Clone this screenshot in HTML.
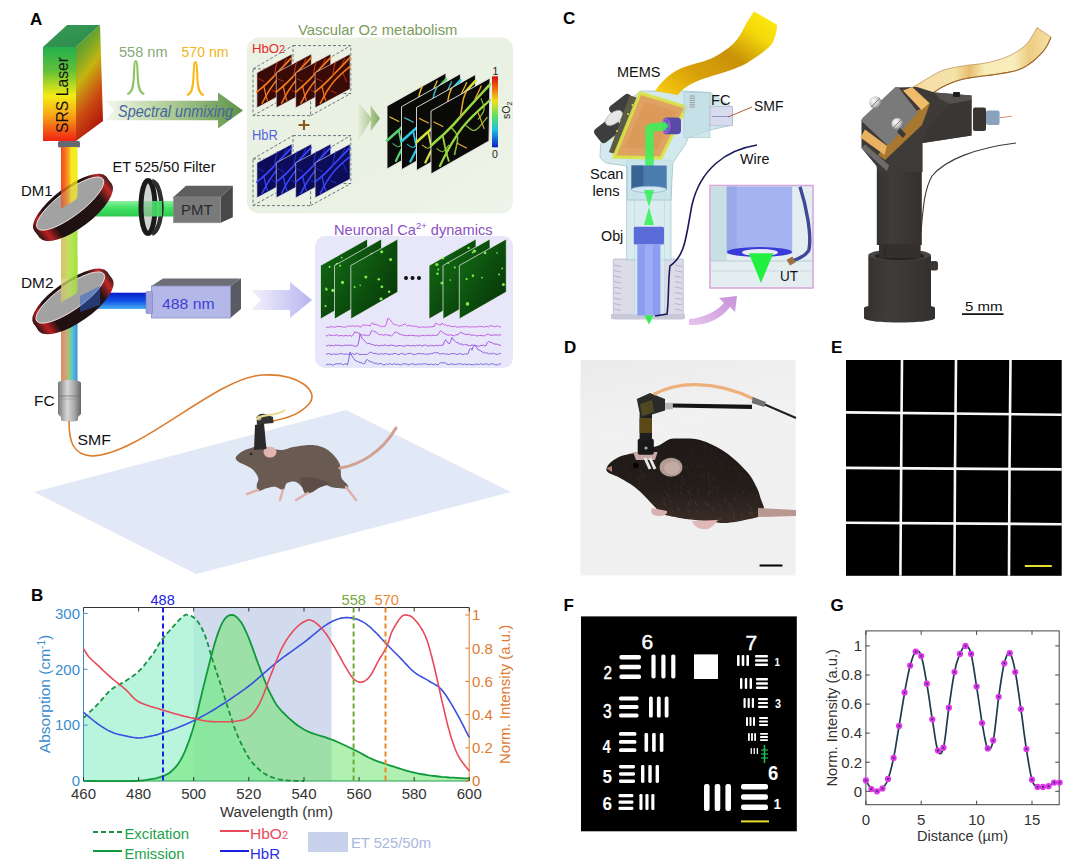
<!DOCTYPE html><html><head><meta charset="utf-8"><style>html,body{margin:0;padding:0;background:#fff;overflow:hidden}svg{display:block}</style></head><body><svg width="1080" height="867" viewBox="0 0 1080 867"><defs>
<linearGradient id="laserFront" x1="0" y1="0" x2="0" y2="1">
 <stop offset="0" stop-color="#22b04e"/><stop offset="0.25" stop-color="#60c038"/>
 <stop offset="0.52" stop-color="#f4ec14"/><stop offset="0.72" stop-color="#f8a818"/>
 <stop offset="1" stop-color="#f02212"/></linearGradient>
<linearGradient id="laserSide" x1="0" y1="0" x2="0.3" y2="1">
 <stop offset="0" stop-color="#2e8a3e"/><stop offset="0.3" stop-color="#7aa828"/>
 <stop offset="0.48" stop-color="#c4b410"/><stop offset="0.75" stop-color="#cc5012"/>
 <stop offset="1" stop-color="#b41c0c"/></linearGradient>
<linearGradient id="laserTop" x1="0" y1="0" x2="1" y2="1">
 <stop offset="0" stop-color="#3a9a58"/><stop offset="1" stop-color="#2a8a48"/></linearGradient>
<linearGradient id="beam1" x1="0" y1="0" x2="1" y2="0">
 <stop offset="0" stop-color="#f04a22"/><stop offset="0.3" stop-color="#f87a20"/><stop offset="0.5" stop-color="#f8b020"/>
 <stop offset="0.62" stop-color="#f8e820"/><stop offset="1" stop-color="#f0f020"/></linearGradient>
<linearGradient id="beam2" x1="0" y1="0" x2="1" y2="0">
 <stop offset="0" stop-color="#d8c070"/><stop offset="0.45" stop-color="#c8dc60"/>
 <stop offset="0.6" stop-color="#b0e850"/><stop offset="1" stop-color="#a8e040"/></linearGradient>
<linearGradient id="beam3" x1="0" y1="0" x2="1" y2="0">
 <stop offset="0" stop-color="#d89068"/><stop offset="0.35" stop-color="#d0a878"/>
 <stop offset="0.5" stop-color="#88d080"/><stop offset="0.7" stop-color="#60c0d0"/>
 <stop offset="1" stop-color="#3890e0"/></linearGradient>
<linearGradient id="greenBeam" x1="0" y1="0" x2="0" y2="1">
 <stop offset="0" stop-color="#8af0a0"/><stop offset="0.5" stop-color="#3ee060"/>
 <stop offset="1" stop-color="#30c850"/></linearGradient>
<linearGradient id="blueBeam" x1="0" y1="0" x2="0" y2="1">
 <stop offset="0" stop-color="#0a20c8"/><stop offset="0.5" stop-color="#1050e8"/>
 <stop offset="1" stop-color="#48b0f0"/></linearGradient>
<linearGradient id="silver" x1="0" y1="0" x2="1" y2="0">
 <stop offset="0" stop-color="#777"/><stop offset="0.4" stop-color="#d8d8d8"/>
 <stop offset="0.7" stop-color="#aaa"/><stop offset="1" stop-color="#666"/></linearGradient>
<linearGradient id="specArrow" x1="0" y1="0" x2="1" y2="0">
 <stop offset="0" stop-color="#f4f8f0"/><stop offset="0.35" stop-color="#c0d8a8"/>
 <stop offset="1" stop-color="#5e9248"/></linearGradient>
<linearGradient id="chev" x1="0" y1="0" x2="1" y2="0">
 <stop offset="0" stop-color="#e6eedc"/><stop offset="0.55" stop-color="#b4cc98"/><stop offset="1" stop-color="#80a860"/></linearGradient>
<linearGradient id="purpArrow" x1="0" y1="0" x2="1" y2="0">
 <stop offset="0" stop-color="#f4f2fc"/><stop offset="1" stop-color="#b8b4f0"/></linearGradient>
<linearGradient id="jet" x1="0" y1="0" x2="0" y2="1">
 <stop offset="0" stop-color="#d01010"/><stop offset="0.15" stop-color="#f06010"/>
 <stop offset="0.35" stop-color="#f0e020"/><stop offset="0.55" stop-color="#60e060"/>
 <stop offset="0.75" stop-color="#20c0e0"/><stop offset="1" stop-color="#0a20c8"/></linearGradient>
<linearGradient id="greenPanel" x1="0" y1="0" x2="1" y2="1">
 <stop offset="0" stop-color="#ebf2e4"/><stop offset="0.5" stop-color="#e9f1e2"/><stop offset="1" stop-color="#eef4e9"/></linearGradient>
<linearGradient id="rim" x1="0" y1="0" x2="1" y2="0">
 <stop offset="0" stop-color="#301414"/><stop offset="0.1" stop-color="#b82020"/><stop offset="0.22" stop-color="#1e1010"/>
 <stop offset="0.8" stop-color="#241414"/><stop offset="0.93" stop-color="#c02828"/><stop offset="1" stop-color="#3a1a1a"/></linearGradient>
<linearGradient id="pinkArrow" x1="0" y1="1" x2="1" y2="0">
 <stop offset="0" stop-color="#e6c4ec"/><stop offset="1" stop-color="#c890d8"/></linearGradient>
<linearGradient id="ribbon" x1="1" y1="0" x2="0" y2="1">
 <stop offset="0" stop-color="#fcf010"/><stop offset="0.22" stop-color="#f4d80a"/><stop offset="0.45" stop-color="#c89208"/>
 <stop offset="0.7" stop-color="#d8a008"/><stop offset="1" stop-color="#fad010"/></linearGradient>
<linearGradient id="ribbon2" x1="0" y1="0" x2="1" y2="0">
 <stop offset="0" stop-color="#eec27a"/><stop offset="0.15" stop-color="#f6e0a8"/><stop offset="0.35" stop-color="#f4e2a8"/>
 <stop offset="0.45" stop-color="#e8bc70"/><stop offset="0.55" stop-color="#f8ecb8"/><stop offset="0.75" stop-color="#f8eebc"/>
 <stop offset="0.85" stop-color="#eecb80"/><stop offset="1" stop-color="#f6e2a8"/></linearGradient>
<linearGradient id="photoBg" x1="0" y1="0" x2="0.2" y2="1">
 <stop offset="0" stop-color="#ebebeb"/><stop offset="0.35" stop-color="#f1f1f1"/><stop offset="1" stop-color="#f0f0f0"/></linearGradient>
<linearGradient id="mouseFur" x1="0" y1="0" x2="0" y2="1">
 <stop offset="0" stop-color="#1e1917"/><stop offset="0.6" stop-color="#241d1a"/><stop offset="1" stop-color="#3a2d27"/></linearGradient>
<linearGradient id="darkCol" x1="0" y1="0" x2="1" y2="0">
 <stop offset="0" stop-color="#363230"/><stop offset="0.35" stop-color="#403c39"/><stop offset="1" stop-color="#34302e"/></linearGradient>
</defs>
<defs>
<linearGradient id="chev2" x1="0" y1="0" x2="1" y2="0"><stop offset="0" stop-color="#d8e8c8"/><stop offset="1" stop-color="#7aa85a"/></linearGradient>
<linearGradient id="caG" x1="0" y1="0" x2="1" y2="1"><stop offset="0" stop-color="#157016"/><stop offset="0.5" stop-color="#0c4e0e"/><stop offset="1" stop-color="#072e08"/></linearGradient>
<radialGradient id="screw" cx="0.35" cy="0.35" r="0.7"><stop offset="0" stop-color="#ffffff"/><stop offset="0.6" stop-color="#c8c8c8"/><stop offset="1" stop-color="#707070"/></radialGradient>
</defs>
<rect width="1080" height="867" fill="#ffffff"/>
<rect x="0" y="0" width="540" height="580" fill="#ffffff"/>
<text x="30" y="25" font-family="Liberation Sans, sans-serif" font-weight="bold" font-size="17" fill="#000">A</text>
<polygon points="43,47 67,25 100,25 76,47" fill="url(#laserTop)"/>
<polygon points="76,47 100,25 103,121 76,141" fill="url(#laserSide)"/>
<rect x="43" y="47" width="33" height="94" fill="url(#laserFront)"/>
<text transform="translate(67.5,133) rotate(-90)" font-family="Liberation Sans, sans-serif" font-size="17" fill="#111" textLength="76" lengthAdjust="spacingAndGlyphs">SRS Laser</text>
<rect x="58" y="141" width="22" height="6.5" rx="1.5" fill="#656a72"/>
<rect x="61" y="147" width="16.5" height="70" fill="url(#beam1)"/>
<rect x="61" y="217" width="16.5" height="62" fill="url(#beam2)"/>
<rect x="61" y="300" width="16.5" height="82" fill="url(#beam3)"/>
<rect x="90" y="201" width="84" height="15.5" fill="url(#greenBeam)"/>
<rect x="82" y="292.7" width="65" height="16.3" fill="url(#blueBeam)"/>
<g transform="translate(72,206) rotate(-37)"><ellipse cx="0" cy="6" rx="45" ry="17" fill="url(#rim)"/><rect x="-45" y="-3" width="90" height="9" fill="url(#rim)"/><ellipse cx="0" cy="-3" rx="45" ry="16" fill="url(#rim)"/><ellipse cx="0" cy="-3" rx="41" ry="12.5" fill="#a2a2a2" stroke="#f0e4e4" stroke-width="0.9"/></g>
<g transform="translate(72,300) rotate(-35)"><ellipse cx="0" cy="6" rx="45" ry="17" fill="url(#rim)"/><rect x="-45" y="-3" width="90" height="9" fill="url(#rim)"/><ellipse cx="0" cy="-3" rx="45" ry="16" fill="url(#rim)"/><ellipse cx="0" cy="-3" rx="41" ry="12.5" fill="#a2a2a2" stroke="#f0e4e4" stroke-width="0.9"/></g>
<path d="M61,160 L77.5,160 L77.5,196 C77.5,202 61,206 61,210 Z" fill="url(#beam1)" opacity="0.75"/>
<path d="M61,255 L77.5,255 L77.5,290 C77.5,296 61,300 61,304 Z" fill="url(#beam2)" opacity="0.8"/>
<path d="M80,296 L100,286 L100,305 L80,312 Z" fill="#2a60d0" opacity="0.5"/>
<ellipse cx="148" cy="207" rx="7" ry="26.5" fill="#b0b8b0" fill-opacity="0.6" stroke="#1a1a1a" stroke-width="5"/>
<path d="M152,181 C159,183 161.5,198 161.5,207 C161.5,216 159,231 152,234" fill="none" stroke="#2e2e2e" stroke-width="4.5"/>
<rect x="152" y="201" width="10" height="15.5" fill="#48e068" opacity="0.9"/>
<polygon points="173.5,196.9 186,185.7 232.8,185.7 220.7,196.9" fill="#5e5e5e"/>
<polygon points="220.7,196.9 232.8,185.7 232.8,217.2 220.7,222.8" fill="#484848"/>
<rect x="173.5" y="196.9" width="47.2" height="25.9" fill="#7a7a7a" stroke="#8e8e8e" stroke-width="0.6"/>
<text x="181" y="215.4" font-family="Liberation Sans, sans-serif" font-size="15" fill="#2a2a2a" textLength="31.5" lengthAdjust="spacingAndGlyphs" >PMT</text>
<polygon points="151.4,286 163,278.5 241,278.5 230.3,286" fill="#6e6e76"/>
<polygon points="230.3,286 241,278.5 241,309 230.3,318" fill="#5a5a62"/>
<rect x="151.4" y="286" width="79" height="32" fill="#b4b8e8" stroke="#8a8ec0" stroke-width="0.8"/>
<rect x="146" y="291.6" width="6.5" height="22" rx="1" fill="#a0a4dc" stroke="#7a7eb8" stroke-width="0.6"/>
<text x="162" y="308.5" font-family="Liberation Sans, sans-serif" font-size="15" fill="#4040d8" textLength="52.5" lengthAdjust="spacingAndGlyphs" >488 nm</text>
<path d="M58,383 C58,379 81,379 81,383 L81,414 L78,417 L78,420 C78,422 61,422 61,420 L61,417 L58,414 Z" fill="url(#silver)"/>
<line x1="58" y1="396" x2="81" y2="396" stroke="#6a6a6a" stroke-width="0.7"/>
<line x1="58" y1="399" x2="81" y2="399" stroke="#8a8a8a" stroke-width="0.5"/>
<text x="21" y="196" font-family="Liberation Sans, sans-serif" font-size="15.5" fill="#111" textLength="31.5" lengthAdjust="spacingAndGlyphs" >DM1</text>
<text x="21" y="288" font-family="Liberation Sans, sans-serif" font-size="15.5" fill="#111" textLength="32.5" lengthAdjust="spacingAndGlyphs" >DM2</text>
<text x="34" y="405.5" font-family="Liberation Sans, sans-serif" font-size="15.5" fill="#111" textLength="20.5" lengthAdjust="spacingAndGlyphs" >FC</text>
<text x="77.5" y="445" font-family="Liberation Sans, sans-serif" font-size="15.5" fill="#111" textLength="33.5" lengthAdjust="spacingAndGlyphs" >SMF</text>
<text x="112.5" y="171.5" font-family="Liberation Sans, sans-serif" font-size="14.6" fill="#111" textLength="103" lengthAdjust="spacingAndGlyphs" >ET 525/50 Filter</text>
<polygon points="105.5,100.8 218,100.8 218,92.5 243,110.5 218,128.6 218,120.3 105.5,120.3 114,110.5" fill="url(#specArrow)"/>
<text x="118" y="117" font-family="Liberation Sans, sans-serif" font-size="16" font-style="italic" fill="#46649e" textLength="115" lengthAdjust="spacingAndGlyphs">Spectral unmixing</text>
<text x="119" y="57" font-family="Liberation Sans, sans-serif" font-size="14" fill="#86aa76" textLength="48.5" lengthAdjust="spacingAndGlyphs" >558 nm</text>
<text x="181.5" y="57" font-family="Liberation Sans, sans-serif" font-size="14" fill="#f2b41a" textLength="47" lengthAdjust="spacingAndGlyphs" >570 nm</text>
<path d="M127.30000000000001,94 C131.8,93 133.20000000000002,88 133.8,78 C134.3,65 134.8,61 135.8,61 C136.8,61 137.3,65 137.8,78 C138.4,88 139.8,93 144.3,94" fill="none" stroke="#8cc464" stroke-width="2.1"/>
<path d="M186.9,95 C191.4,94 192.8,89 193.4,79 C193.9,66 194.4,62 195.4,62 C196.4,62 196.9,66 197.4,79 C198.0,89 199.4,94 203.9,95" fill="none" stroke="#f8b818" stroke-width="2.1"/>
<rect x="247" y="37.5" width="266" height="176" rx="12" fill="url(#greenPanel)"/>
<text x="298" y="35" font-family="Liberation Sans, sans-serif" font-size="14.8" fill="#7a9c5c">Vascular O<tspan font-size="13.5">2</tspan>  metabolism</text>
<text x="252" y="53" font-family="Liberation Sans, sans-serif" font-size="13.2" fill="#e82828">HbO<tspan font-size="10.5">2</tspan></text>
<text x="252" y="140" font-family="Liberation Sans, sans-serif" font-size="14.5" fill="#5064e0" textLength="25.8" lengthAdjust="spacingAndGlyphs" >HbR</text>
<path d="M304,120 L304,130 M298.5,125 L309.5,125" stroke="#8a5a20" stroke-width="2.2"/>
<g fill="none" stroke="#6a7484" stroke-width="1" stroke-dasharray="3,2"><rect x="253" y="68.9" width="57.6" height="46.7"/><rect x="293" y="45.6" width="57.8" height="47.9"/><line x1="253" y1="68.9" x2="293" y2="45.6"/><line x1="310.6" y1="68.9" x2="350.8" y2="45.6"/><line x1="253" y1="115.6" x2="293" y2="93.5"/><line x1="310.6" y1="115.6" x2="350.8" y2="93.5"/></g><polygon points="256.9,72.8 291.9,54 291.9,89 256.9,107.8" fill="#3a0a06" stroke="#e8e8e8" stroke-width="0.6"/><path d="M256.9,92.0 L258.8,90.4 L261.5,88.2 L264.5,85.5 L267.4,82.9 L269.9,80.4 L272.4,77.8 L275.0,75.0 L277.9,72.0 L281.5,68.3 L285.6,64.1 L289.3,60.2 L291.9,57.5" fill="none" stroke="#f47a1e" stroke-width="1.70" stroke-linecap="round"/><path d="M262.1,103.2 L263.4,101.0 L265.1,97.7 L267.1,94.1 L269.1,90.7 L271.1,87.8 L273.1,84.9 L275.3,82.0 L277.9,79.0 L281.4,75.6 L285.4,71.9 L289.3,68.6 L291.9,66.2" fill="none" stroke="#f47a1e" stroke-width="1.50" stroke-linecap="round"/><path d="M263.9,86.5 L264.2,88.0 L264.7,90.1 L265.2,92.3 L265.6,94.3 L266.1,96.1 L266.6,97.9 L267.1,99.4 L267.4,100.4" fill="none" stroke="#f47a1e" stroke-width="1.20" stroke-linecap="round"/><path d="M274.4,75.7 L274.7,73.8 L275.2,71.1 L275.7,68.2 L276.1,66.0 L276.6,64.4 L277.1,63.1 L277.6,62.2 L277.9,61.5" fill="none" stroke="#d83a14" stroke-width="1.00" stroke-linecap="round"/><path d="M283.1,65.7 L283.9,64.3 L284.9,62.1 L285.9,60.0 L286.6,58.6" fill="none" stroke="#d83a14" stroke-width="0.90" stroke-linecap="round"/><path d="M258.6,78.9 L259.7,79.4 L261.3,80.1 L262.8,80.8 L263.9,81.3" fill="none" stroke="#d83a14" stroke-width="0.80" stroke-linecap="round"/><path d="M272.6,90.6 L273.7,91.1 L275.3,91.8 L276.8,92.5 L277.9,93.0" fill="none" stroke="#d83a14" stroke-width="0.80" stroke-linecap="round"/><path d="M284.9,73.5 L285.6,75.3 L286.6,77.8 L287.7,80.4 L288.4,82.1" fill="none" stroke="#d83a14" stroke-width="0.80" stroke-linecap="round"/><polygon points="276.29999999999995,72.8 311.29999999999995,54 311.29999999999995,89 276.29999999999995,107.8" fill="#3a0a06" stroke="#e8e8e8" stroke-width="0.6"/><path d="M276.3,92.0 L278.2,90.4 L280.9,88.2 L283.9,85.5 L286.8,82.9 L289.3,80.4 L291.8,77.8 L294.4,75.0 L297.3,72.0 L300.9,68.3 L305.0,64.1 L308.7,60.2 L311.3,57.5" fill="none" stroke="#f47a1e" stroke-width="1.70" stroke-linecap="round"/><path d="M281.5,103.2 L282.8,101.0 L284.5,97.7 L286.5,94.1 L288.5,90.7 L290.5,87.8 L292.5,84.9 L294.7,82.0 L297.3,79.0 L300.8,75.6 L304.8,71.9 L308.7,68.6 L311.3,66.2" fill="none" stroke="#f47a1e" stroke-width="1.50" stroke-linecap="round"/><path d="M283.3,86.5 L283.6,88.0 L284.1,90.1 L284.6,92.3 L285.0,94.3 L285.5,96.1 L286.0,97.9 L286.5,99.4 L286.8,100.4" fill="none" stroke="#f47a1e" stroke-width="1.20" stroke-linecap="round"/><path d="M293.8,75.7 L294.1,73.8 L294.6,71.1 L295.1,68.2 L295.5,66.0 L296.0,64.4 L296.5,63.1 L297.0,62.2 L297.3,61.5" fill="none" stroke="#d83a14" stroke-width="1.00" stroke-linecap="round"/><path d="M302.5,65.7 L303.3,64.3 L304.3,62.1 L305.3,60.0 L306.0,58.6" fill="none" stroke="#d83a14" stroke-width="0.90" stroke-linecap="round"/><path d="M278.0,78.9 L279.1,79.4 L280.7,80.1 L282.2,80.8 L283.3,81.3" fill="none" stroke="#d83a14" stroke-width="0.80" stroke-linecap="round"/><path d="M292.0,90.6 L293.1,91.1 L294.7,91.8 L296.2,92.5 L297.3,93.0" fill="none" stroke="#d83a14" stroke-width="0.80" stroke-linecap="round"/><path d="M304.3,73.5 L305.0,75.3 L306.0,77.8 L307.1,80.4 L307.8,82.1" fill="none" stroke="#d83a14" stroke-width="0.80" stroke-linecap="round"/><polygon points="295.7,72.8 330.7,54 330.7,89 295.7,107.8" fill="#3a0a06" stroke="#e8e8e8" stroke-width="0.6"/><path d="M295.7,92.0 L297.6,90.4 L300.3,88.2 L303.3,85.5 L306.2,82.9 L308.7,80.4 L311.2,77.8 L313.8,75.0 L316.7,72.0 L320.3,68.3 L324.4,64.1 L328.1,60.2 L330.7,57.5" fill="none" stroke="#f47a1e" stroke-width="1.70" stroke-linecap="round"/><path d="M300.9,103.2 L302.2,101.0 L303.9,97.7 L305.9,94.1 L307.9,90.7 L309.9,87.8 L311.9,84.9 L314.1,82.0 L316.7,79.0 L320.2,75.6 L324.2,71.9 L328.1,68.6 L330.7,66.2" fill="none" stroke="#f47a1e" stroke-width="1.50" stroke-linecap="round"/><path d="M302.7,86.5 L303.0,88.0 L303.5,90.1 L304.0,92.3 L304.4,94.3 L304.9,96.1 L305.4,97.9 L305.9,99.4 L306.2,100.4" fill="none" stroke="#f47a1e" stroke-width="1.20" stroke-linecap="round"/><path d="M313.2,75.7 L313.5,73.8 L314.0,71.1 L314.5,68.2 L314.9,66.0 L315.4,64.4 L315.9,63.1 L316.4,62.2 L316.7,61.5" fill="none" stroke="#d83a14" stroke-width="1.00" stroke-linecap="round"/><path d="M321.9,65.7 L322.7,64.3 L323.7,62.1 L324.7,60.0 L325.4,58.6" fill="none" stroke="#d83a14" stroke-width="0.90" stroke-linecap="round"/><path d="M297.4,78.9 L298.5,79.4 L300.1,80.1 L301.6,80.8 L302.7,81.3" fill="none" stroke="#d83a14" stroke-width="0.80" stroke-linecap="round"/><path d="M311.4,90.6 L312.5,91.1 L314.1,91.8 L315.6,92.5 L316.7,93.0" fill="none" stroke="#d83a14" stroke-width="0.80" stroke-linecap="round"/><path d="M323.7,73.5 L324.4,75.3 L325.4,77.8 L326.5,80.4 L327.2,82.1" fill="none" stroke="#d83a14" stroke-width="0.80" stroke-linecap="round"/><polygon points="315.09999999999997,72.8 350.09999999999997,54 350.09999999999997,89 315.09999999999997,107.8" fill="#3a0a06" stroke="#e8e8e8" stroke-width="0.6"/><path d="M315.1,92.0 L317.0,90.4 L319.7,88.2 L322.7,85.5 L325.6,82.9 L328.1,80.4 L330.6,77.8 L333.2,75.0 L336.1,72.0 L339.7,68.3 L343.8,64.1 L347.5,60.2 L350.1,57.5" fill="none" stroke="#f47a1e" stroke-width="1.70" stroke-linecap="round"/><path d="M320.3,103.2 L321.6,101.0 L323.3,97.7 L325.3,94.1 L327.3,90.7 L329.3,87.8 L331.3,84.9 L333.5,82.0 L336.1,79.0 L339.6,75.6 L343.6,71.9 L347.5,68.6 L350.1,66.2" fill="none" stroke="#f47a1e" stroke-width="1.50" stroke-linecap="round"/><path d="M322.1,86.5 L322.4,88.0 L322.9,90.1 L323.4,92.3 L323.8,94.3 L324.3,96.1 L324.8,97.9 L325.3,99.4 L325.6,100.4" fill="none" stroke="#f47a1e" stroke-width="1.20" stroke-linecap="round"/><path d="M332.6,75.7 L332.9,73.8 L333.4,71.1 L333.9,68.2 L334.3,66.0 L334.8,64.4 L335.3,63.1 L335.8,62.2 L336.1,61.5" fill="none" stroke="#d83a14" stroke-width="1.00" stroke-linecap="round"/><path d="M341.3,65.7 L342.1,64.3 L343.1,62.1 L344.1,60.0 L344.8,58.6" fill="none" stroke="#d83a14" stroke-width="0.90" stroke-linecap="round"/><path d="M316.8,78.9 L317.9,79.4 L319.5,80.1 L321.0,80.8 L322.1,81.3" fill="none" stroke="#d83a14" stroke-width="0.80" stroke-linecap="round"/><path d="M330.8,90.6 L331.9,91.1 L333.5,91.8 L335.0,92.5 L336.1,93.0" fill="none" stroke="#d83a14" stroke-width="0.80" stroke-linecap="round"/><path d="M343.1,73.5 L343.8,75.3 L344.8,77.8 L345.9,80.4 L346.6,82.1" fill="none" stroke="#d83a14" stroke-width="0.80" stroke-linecap="round"/>
<g fill="none" stroke="#6a7484" stroke-width="1" stroke-dasharray="3,2"><rect x="253" y="158.9" width="57.6" height="46.7"/><rect x="293" y="135.6" width="57.8" height="47.9"/><line x1="253" y1="158.9" x2="293" y2="135.6"/><line x1="310.6" y1="158.9" x2="350.8" y2="135.6"/><line x1="253" y1="205.6" x2="293" y2="183.5"/><line x1="310.6" y1="205.6" x2="350.8" y2="183.5"/></g><polygon points="256.9,162.8 291.9,144 291.9,179 256.9,197.8" fill="#0c0c5a" stroke="#e8e8e8" stroke-width="0.6"/><path d="M256.9,182.1 L258.8,180.4 L261.5,178.2 L264.5,175.5 L267.4,172.9 L269.9,170.4 L272.4,167.8 L275.0,165.0 L277.9,162.0 L281.5,158.3 L285.6,154.1 L289.3,150.2 L291.9,147.5" fill="none" stroke="#3848ff" stroke-width="1.70" stroke-linecap="round"/><path d="M262.1,193.2 L263.4,191.0 L265.1,187.7 L267.1,184.1 L269.1,180.7 L271.1,177.8 L273.1,174.9 L275.3,172.0 L277.9,169.0 L281.4,165.6 L285.4,161.9 L289.3,158.6 L291.9,156.2" fill="none" stroke="#3848ff" stroke-width="1.50" stroke-linecap="round"/><path d="M263.9,176.5 L264.2,178.0 L264.7,180.1 L265.2,182.3 L265.6,184.3 L266.1,186.1 L266.6,187.9 L267.1,189.4 L267.4,190.4" fill="none" stroke="#3848ff" stroke-width="1.20" stroke-linecap="round"/><path d="M274.4,165.7 L274.7,163.8 L275.2,161.1 L275.7,158.2 L276.1,156.0 L276.6,154.4 L277.1,153.1 L277.6,152.2 L277.9,151.5" fill="none" stroke="#2838d8" stroke-width="1.00" stroke-linecap="round"/><path d="M283.1,155.7 L283.9,154.3 L284.9,152.1 L285.9,150.0 L286.6,148.6" fill="none" stroke="#2838d8" stroke-width="0.90" stroke-linecap="round"/><path d="M258.6,168.9 L259.7,169.4 L261.3,170.1 L262.8,170.8 L263.9,171.3" fill="none" stroke="#2838d8" stroke-width="0.80" stroke-linecap="round"/><path d="M272.6,180.6 L273.7,181.1 L275.3,181.8 L276.8,182.5 L277.9,183.0" fill="none" stroke="#2838d8" stroke-width="0.80" stroke-linecap="round"/><path d="M284.9,163.5 L285.6,165.3 L286.6,167.8 L287.7,170.4 L288.4,172.1" fill="none" stroke="#2838d8" stroke-width="0.80" stroke-linecap="round"/><polygon points="276.29999999999995,162.8 311.29999999999995,144 311.29999999999995,179 276.29999999999995,197.8" fill="#0c0c5a" stroke="#e8e8e8" stroke-width="0.6"/><path d="M276.3,182.1 L278.2,180.4 L280.9,178.2 L283.9,175.5 L286.8,172.9 L289.3,170.4 L291.8,167.8 L294.4,165.0 L297.3,162.0 L300.9,158.3 L305.0,154.1 L308.7,150.2 L311.3,147.5" fill="none" stroke="#3848ff" stroke-width="1.70" stroke-linecap="round"/><path d="M281.5,193.2 L282.8,191.0 L284.5,187.7 L286.5,184.1 L288.5,180.7 L290.5,177.8 L292.5,174.9 L294.7,172.0 L297.3,169.0 L300.8,165.6 L304.8,161.9 L308.7,158.6 L311.3,156.2" fill="none" stroke="#3848ff" stroke-width="1.50" stroke-linecap="round"/><path d="M283.3,176.5 L283.6,178.0 L284.1,180.1 L284.6,182.3 L285.0,184.3 L285.5,186.1 L286.0,187.9 L286.5,189.4 L286.8,190.4" fill="none" stroke="#3848ff" stroke-width="1.20" stroke-linecap="round"/><path d="M293.8,165.7 L294.1,163.8 L294.6,161.1 L295.1,158.2 L295.5,156.0 L296.0,154.4 L296.5,153.1 L297.0,152.2 L297.3,151.5" fill="none" stroke="#2838d8" stroke-width="1.00" stroke-linecap="round"/><path d="M302.5,155.7 L303.3,154.3 L304.3,152.1 L305.3,150.0 L306.0,148.6" fill="none" stroke="#2838d8" stroke-width="0.90" stroke-linecap="round"/><path d="M278.0,168.9 L279.1,169.4 L280.7,170.1 L282.2,170.8 L283.3,171.3" fill="none" stroke="#2838d8" stroke-width="0.80" stroke-linecap="round"/><path d="M292.0,180.6 L293.1,181.1 L294.7,181.8 L296.2,182.5 L297.3,183.0" fill="none" stroke="#2838d8" stroke-width="0.80" stroke-linecap="round"/><path d="M304.3,163.5 L305.0,165.3 L306.0,167.8 L307.1,170.4 L307.8,172.1" fill="none" stroke="#2838d8" stroke-width="0.80" stroke-linecap="round"/><polygon points="295.7,162.8 330.7,144 330.7,179 295.7,197.8" fill="#0c0c5a" stroke="#e8e8e8" stroke-width="0.6"/><path d="M295.7,182.1 L297.6,180.4 L300.3,178.2 L303.3,175.5 L306.2,172.9 L308.7,170.4 L311.2,167.8 L313.8,165.0 L316.7,162.0 L320.3,158.3 L324.4,154.1 L328.1,150.2 L330.7,147.5" fill="none" stroke="#3848ff" stroke-width="1.70" stroke-linecap="round"/><path d="M300.9,193.2 L302.2,191.0 L303.9,187.7 L305.9,184.1 L307.9,180.7 L309.9,177.8 L311.9,174.9 L314.1,172.0 L316.7,169.0 L320.2,165.6 L324.2,161.9 L328.1,158.6 L330.7,156.2" fill="none" stroke="#3848ff" stroke-width="1.50" stroke-linecap="round"/><path d="M302.7,176.5 L303.0,178.0 L303.5,180.1 L304.0,182.3 L304.4,184.3 L304.9,186.1 L305.4,187.9 L305.9,189.4 L306.2,190.4" fill="none" stroke="#3848ff" stroke-width="1.20" stroke-linecap="round"/><path d="M313.2,165.7 L313.5,163.8 L314.0,161.1 L314.5,158.2 L314.9,156.0 L315.4,154.4 L315.9,153.1 L316.4,152.2 L316.7,151.5" fill="none" stroke="#2838d8" stroke-width="1.00" stroke-linecap="round"/><path d="M321.9,155.7 L322.7,154.3 L323.7,152.1 L324.7,150.0 L325.4,148.6" fill="none" stroke="#2838d8" stroke-width="0.90" stroke-linecap="round"/><path d="M297.4,168.9 L298.5,169.4 L300.1,170.1 L301.6,170.8 L302.7,171.3" fill="none" stroke="#2838d8" stroke-width="0.80" stroke-linecap="round"/><path d="M311.4,180.6 L312.5,181.1 L314.1,181.8 L315.6,182.5 L316.7,183.0" fill="none" stroke="#2838d8" stroke-width="0.80" stroke-linecap="round"/><path d="M323.7,163.5 L324.4,165.3 L325.4,167.8 L326.5,170.4 L327.2,172.1" fill="none" stroke="#2838d8" stroke-width="0.80" stroke-linecap="round"/><polygon points="315.09999999999997,162.8 350.09999999999997,144 350.09999999999997,179 315.09999999999997,197.8" fill="#0c0c5a" stroke="#e8e8e8" stroke-width="0.6"/><path d="M315.1,182.1 L317.0,180.4 L319.7,178.2 L322.7,175.5 L325.6,172.9 L328.1,170.4 L330.6,167.8 L333.2,165.0 L336.1,162.0 L339.7,158.3 L343.8,154.1 L347.5,150.2 L350.1,147.5" fill="none" stroke="#3848ff" stroke-width="1.70" stroke-linecap="round"/><path d="M320.3,193.2 L321.6,191.0 L323.3,187.7 L325.3,184.1 L327.3,180.7 L329.3,177.8 L331.3,174.9 L333.5,172.0 L336.1,169.0 L339.6,165.6 L343.6,161.9 L347.5,158.6 L350.1,156.2" fill="none" stroke="#3848ff" stroke-width="1.50" stroke-linecap="round"/><path d="M322.1,176.5 L322.4,178.0 L322.9,180.1 L323.4,182.3 L323.8,184.3 L324.3,186.1 L324.8,187.9 L325.3,189.4 L325.6,190.4" fill="none" stroke="#3848ff" stroke-width="1.20" stroke-linecap="round"/><path d="M332.6,165.7 L332.9,163.8 L333.4,161.1 L333.9,158.2 L334.3,156.0 L334.8,154.4 L335.3,153.1 L335.8,152.2 L336.1,151.5" fill="none" stroke="#2838d8" stroke-width="1.00" stroke-linecap="round"/><path d="M341.3,155.7 L342.1,154.3 L343.1,152.1 L344.1,150.0 L344.8,148.6" fill="none" stroke="#2838d8" stroke-width="0.90" stroke-linecap="round"/><path d="M316.8,168.9 L317.9,169.4 L319.5,170.1 L321.0,170.8 L322.1,171.3" fill="none" stroke="#2838d8" stroke-width="0.80" stroke-linecap="round"/><path d="M330.8,180.6 L331.9,181.1 L333.5,181.8 L335.0,182.5 L336.1,183.0" fill="none" stroke="#2838d8" stroke-width="0.80" stroke-linecap="round"/><path d="M343.1,163.5 L343.8,165.3 L344.8,167.8 L345.9,170.4 L346.6,172.1" fill="none" stroke="#2838d8" stroke-width="0.80" stroke-linecap="round"/>
<polygon points="358,101.8 371,117.5 370.5,105.2 380,118.5 370.5,131.5 371,120 358,141.2" fill="url(#chev)"/>
<polygon points="387,106 446,73 445,136 387,169" fill="#0a0a08" stroke="#e8e8e8" stroke-width="0.9"/><path d="M387.0,140.7 L390.2,137.8 L394.7,133.8 L399.9,129.1 L404.7,124.4 L409.0,120.0 L413.2,115.4 L417.6,110.5 L422.4,105.1 L428.4,98.5 L435.3,91.0 L441.6,84.1 L446.0,79.3" fill="none" stroke="#58d070" stroke-width="2.55" stroke-linecap="round"/><path d="M395.9,160.9 L397.9,156.8 L400.8,151.0 L404.2,144.6 L407.6,138.6 L410.9,133.3 L414.3,128.1 L418.0,123.0 L422.4,117.7 L428.2,111.6 L435.1,105.1 L441.6,99.2 L446.0,95.0" fill="none" stroke="#58d070" stroke-width="2.25" stroke-linecap="round"/><path d="M398.8,130.9 L399.3,133.5 L400.1,137.3 L400.9,141.4 L401.8,145.0 L402.6,148.2 L403.4,151.4 L404.2,154.1 L404.7,155.9" fill="none" stroke="#58d070" stroke-width="1.80" stroke-linecap="round"/><path d="M416.5,111.5 L417.0,108.2 L417.8,103.3 L418.6,98.2 L419.4,94.1 L420.3,91.3 L421.1,89.1 L421.9,87.4 L422.4,86.2" fill="none" stroke="#e8c030" stroke-width="1.50" stroke-linecap="round"/><path d="M431.2,93.8 L432.4,91.3 L434.2,87.5 L436.0,83.7 L437.1,81.1" fill="none" stroke="#e8c030" stroke-width="1.35" stroke-linecap="round"/><path d="M389.9,116.9 L391.7,117.9 L394.4,119.2 L397.0,120.5 L398.8,121.5" fill="none" stroke="#e8c030" stroke-width="1.20" stroke-linecap="round"/><path d="M413.6,138.4 L415.3,139.3 L418.0,140.7 L420.6,142.0 L422.4,142.9" fill="none" stroke="#e8c030" stroke-width="1.20" stroke-linecap="round"/><path d="M434.2,107.9 L435.4,111.1 L437.2,115.7 L438.9,120.4 L440.1,123.5" fill="none" stroke="#e8c030" stroke-width="1.20" stroke-linecap="round"/><path d="M407.6,122.8 L408.9,124.3 L410.8,126.4 L412.6,129.0 L413.6,132.1 L413.4,136.3 L412.4,141.4 L411.3,146.2 L410.6,149.5" fill="none" stroke="#58d070" stroke-width="1.6" stroke-linecap="round" opacity="0.85"/><path d="M422.4,120.9 L423.9,122.1 L426.1,123.9 L428.6,125.3 L431.2,125.3 L434.3,123.0 L437.7,119.2 L440.9,115.2 L443.1,112.5" fill="none" stroke="#58d070" stroke-width="1.3" stroke-linecap="round" opacity="0.85"/><path d="M392.9,143.7 L394.0,144.4 L395.5,145.6 L397.2,146.5 L398.8,146.7 L400.4,145.6 L402.1,143.6 L403.6,141.6 L404.7,140.2" fill="none" stroke="#58d070" stroke-width="1.1" stroke-linecap="round" opacity="0.85"/><path d="M437.1,93.7 L437.9,95.7 L439.0,98.6 L439.9,101.8 L440.1,104.7 L439.1,107.4 L437.3,110.1 L435.5,112.6 L434.2,114.2" fill="none" stroke="#58d070" stroke-width="1.2" stroke-linecap="round" opacity="0.85"/>
<polygon points="401.5,106.7 460.5,73.7 459.5,136.7 401.5,169.7" fill="#0a0a08" stroke="#e8e8e8" stroke-width="0.9"/><path d="M401.5,141.4 L404.7,138.5 L409.2,134.5 L414.4,129.8 L419.2,125.2 L423.5,120.7 L427.7,116.1 L432.1,111.2 L436.9,105.8 L442.9,99.2 L449.8,91.7 L456.1,84.8 L460.5,80.0" fill="none" stroke="#30c8e8" stroke-width="2.55" stroke-linecap="round"/><path d="M410.4,161.6 L412.4,157.5 L415.3,151.7 L418.7,145.3 L422.1,139.2 L425.4,134.0 L428.8,128.8 L432.5,123.7 L436.9,118.4 L442.7,112.3 L449.6,105.8 L456.1,99.9 L460.5,95.8" fill="none" stroke="#30c8e8" stroke-width="2.25" stroke-linecap="round"/><path d="M413.3,131.6 L413.8,134.2 L414.6,138.0 L415.4,142.1 L416.2,145.7 L417.1,148.9 L417.9,152.1 L418.7,154.8 L419.2,156.6" fill="none" stroke="#30c8e8" stroke-width="1.80" stroke-linecap="round"/><path d="M431.0,112.2 L431.5,108.9 L432.3,104.0 L433.1,98.9 L433.9,94.8 L434.8,92.0 L435.6,89.8 L436.4,88.1 L436.9,86.9" fill="none" stroke="#40b8c8" stroke-width="1.50" stroke-linecap="round"/><path d="M445.8,94.6 L446.9,92.0 L448.7,88.2 L450.5,84.4 L451.6,81.8" fill="none" stroke="#40b8c8" stroke-width="1.35" stroke-linecap="round"/><path d="M404.4,117.7 L406.2,118.6 L408.9,119.9 L411.5,121.2 L413.3,122.2" fill="none" stroke="#40b8c8" stroke-width="1.20" stroke-linecap="round"/><path d="M428.1,139.1 L429.8,140.0 L432.5,141.4 L435.1,142.7 L436.9,143.6" fill="none" stroke="#40b8c8" stroke-width="1.20" stroke-linecap="round"/><path d="M448.7,108.7 L449.9,111.8 L451.7,116.5 L453.4,121.1 L454.6,124.2" fill="none" stroke="#40b8c8" stroke-width="1.20" stroke-linecap="round"/><path d="M422.1,123.5 L423.4,125.0 L425.3,127.1 L427.1,129.7 L428.1,132.8 L427.9,137.0 L426.9,142.1 L425.8,146.9 L425.1,150.2" fill="none" stroke="#30c8e8" stroke-width="1.6" stroke-linecap="round" opacity="0.85"/><path d="M436.9,121.6 L438.4,122.8 L440.6,124.6 L443.1,126.0 L445.8,126.0 L448.8,123.7 L452.2,119.9 L455.4,115.9 L457.6,113.2" fill="none" stroke="#30c8e8" stroke-width="1.3" stroke-linecap="round" opacity="0.85"/><path d="M407.4,144.4 L408.5,145.1 L410.0,146.3 L411.7,147.2 L413.3,147.4 L414.9,146.3 L416.6,144.3 L418.1,142.3 L419.2,140.9" fill="none" stroke="#30c8e8" stroke-width="1.1" stroke-linecap="round" opacity="0.85"/><path d="M451.6,94.4 L452.4,96.4 L453.5,99.3 L454.4,102.5 L454.6,105.3 L453.6,108.1 L451.8,110.8 L450.0,113.3 L448.7,115.0" fill="none" stroke="#30c8e8" stroke-width="1.2" stroke-linecap="round" opacity="0.85"/>
<polygon points="416.5,107.5 475.5,74.5 474.5,137.5 416.5,170.5" fill="#0a0a08" stroke="#e8e8e8" stroke-width="0.9"/><path d="M416.5,142.2 L419.7,139.3 L424.2,135.3 L429.4,130.6 L434.2,125.9 L438.5,121.5 L442.7,116.9 L447.1,112.0 L451.9,106.6 L457.9,100.0 L464.8,92.5 L471.1,85.6 L475.5,80.8" fill="none" stroke="#d8e040" stroke-width="2.55" stroke-linecap="round"/><path d="M425.4,162.4 L427.4,158.3 L430.3,152.5 L433.7,146.1 L437.1,140.1 L440.4,134.8 L443.8,129.6 L447.5,124.5 L451.9,119.2 L457.7,113.1 L464.6,106.6 L471.1,100.7 L475.5,96.5" fill="none" stroke="#d8e040" stroke-width="2.25" stroke-linecap="round"/><path d="M428.3,132.4 L428.8,135.0 L429.6,138.8 L430.4,142.9 L431.2,146.5 L432.1,149.7 L432.9,152.9 L433.7,155.6 L434.2,157.4" fill="none" stroke="#d8e040" stroke-width="1.80" stroke-linecap="round"/><path d="M446.0,113.0 L446.5,109.7 L447.3,104.8 L448.1,99.7 L448.9,95.6 L449.8,92.8 L450.6,90.6 L451.4,88.9 L451.9,87.7" fill="none" stroke="#e8b030" stroke-width="1.50" stroke-linecap="round"/><path d="M460.8,95.3 L461.9,92.8 L463.7,89.0 L465.5,85.2 L466.6,82.6" fill="none" stroke="#e8b030" stroke-width="1.35" stroke-linecap="round"/><path d="M419.4,118.4 L421.2,119.4 L423.9,120.7 L426.5,122.0 L428.3,123.0" fill="none" stroke="#e8b030" stroke-width="1.20" stroke-linecap="round"/><path d="M443.1,139.9 L444.8,140.8 L447.5,142.2 L450.1,143.5 L451.9,144.4" fill="none" stroke="#e8b030" stroke-width="1.20" stroke-linecap="round"/><path d="M463.7,109.4 L464.9,112.6 L466.7,117.2 L468.4,121.9 L469.6,125.0" fill="none" stroke="#e8b030" stroke-width="1.20" stroke-linecap="round"/><path d="M437.1,124.3 L438.4,125.8 L440.3,127.9 L442.1,130.5 L443.1,133.6 L442.9,137.8 L441.9,142.9 L440.8,147.7 L440.1,151.0" fill="none" stroke="#d8e040" stroke-width="1.6" stroke-linecap="round" opacity="0.85"/><path d="M451.9,122.4 L453.4,123.6 L455.6,125.4 L458.1,126.8 L460.8,126.8 L463.8,124.5 L467.2,120.7 L470.4,116.7 L472.6,114.0" fill="none" stroke="#d8e040" stroke-width="1.3" stroke-linecap="round" opacity="0.85"/><path d="M422.4,145.2 L423.5,145.9 L425.0,147.1 L426.7,148.0 L428.3,148.2 L429.9,147.1 L431.6,145.1 L433.1,143.1 L434.2,141.7" fill="none" stroke="#d8e040" stroke-width="1.1" stroke-linecap="round" opacity="0.85"/><path d="M466.6,95.2 L467.4,97.2 L468.5,100.1 L469.4,103.3 L469.6,106.2 L468.6,108.9 L466.8,111.6 L465.0,114.1 L463.7,115.8" fill="none" stroke="#d8e040" stroke-width="1.2" stroke-linecap="round" opacity="0.85"/>
<polygon points="431,111 490,78 489,141 431,174" fill="#0a0a08" stroke="#e8e8e8" stroke-width="0.9"/><path d="M431.0,145.7 L434.2,142.8 L438.7,138.8 L443.9,134.1 L448.7,129.4 L453.0,125.0 L457.2,120.4 L461.6,115.5 L466.4,110.1 L472.4,103.5 L479.3,96.0 L485.6,89.1 L490.0,84.3" fill="none" stroke="#98d840" stroke-width="2.55" stroke-linecap="round"/><path d="M439.9,165.9 L441.9,161.8 L444.8,156.0 L448.2,149.6 L451.6,143.6 L454.9,138.3 L458.3,133.1 L462.0,128.0 L466.4,122.7 L472.2,116.6 L479.1,110.1 L485.6,104.2 L490.0,100.0" fill="none" stroke="#98d840" stroke-width="2.25" stroke-linecap="round"/><path d="M442.8,135.9 L443.3,138.5 L444.1,142.3 L444.9,146.4 L445.8,150.0 L446.6,153.2 L447.4,156.4 L448.2,159.1 L448.7,160.9" fill="none" stroke="#98d840" stroke-width="1.80" stroke-linecap="round"/><path d="M460.5,116.5 L461.0,113.2 L461.8,108.3 L462.6,103.2 L463.4,99.1 L464.3,96.3 L465.1,94.1 L465.9,92.4 L466.4,91.2" fill="none" stroke="#e8a830" stroke-width="1.50" stroke-linecap="round"/><path d="M475.2,98.8 L476.4,96.3 L478.2,92.5 L480.0,88.7 L481.1,86.1" fill="none" stroke="#e8a830" stroke-width="1.35" stroke-linecap="round"/><path d="M433.9,121.9 L435.7,122.9 L438.4,124.2 L441.0,125.5 L442.8,126.5" fill="none" stroke="#e8a830" stroke-width="1.20" stroke-linecap="round"/><path d="M457.6,143.4 L459.3,144.3 L462.0,145.7 L464.6,147.0 L466.4,147.9" fill="none" stroke="#e8a830" stroke-width="1.20" stroke-linecap="round"/><path d="M478.2,112.9 L479.4,116.1 L481.2,120.7 L482.9,125.4 L484.1,128.6" fill="none" stroke="#e8a830" stroke-width="1.20" stroke-linecap="round"/><path d="M451.6,127.8 L452.9,129.3 L454.8,131.4 L456.6,134.0 L457.6,137.1 L457.4,141.3 L456.4,146.4 L455.3,151.2 L454.6,154.5" fill="none" stroke="#98d840" stroke-width="1.6" stroke-linecap="round" opacity="0.85"/><path d="M466.4,125.9 L467.9,127.1 L470.1,128.9 L472.6,130.3 L475.2,130.3 L478.3,128.0 L481.7,124.2 L484.9,120.2 L487.1,117.5" fill="none" stroke="#98d840" stroke-width="1.3" stroke-linecap="round" opacity="0.85"/><path d="M436.9,148.7 L438.0,149.4 L439.5,150.6 L441.2,151.5 L442.8,151.7 L444.4,150.6 L446.1,148.6 L447.6,146.6 L448.7,145.2" fill="none" stroke="#98d840" stroke-width="1.1" stroke-linecap="round" opacity="0.85"/><path d="M481.1,98.7 L481.9,100.7 L483.0,103.6 L483.9,106.8 L484.1,109.7 L483.1,112.4 L481.3,115.1 L479.5,117.6 L478.2,119.2" fill="none" stroke="#98d840" stroke-width="1.2" stroke-linecap="round" opacity="0.85"/>
<rect x="492" y="76.3" width="6" height="71" fill="url(#jet)"/>
<text x="492.5" y="74.5" font-family="Liberation Sans, sans-serif" font-size="10.5" fill="#222" >1</text>
<text x="492" y="158" font-family="Liberation Sans, sans-serif" font-size="10.5" fill="#222" >0</text>
<text transform="translate(509.5,119) rotate(-90)" font-family="Liberation Sans, sans-serif" font-size="10.5" fill="#222">sO<tspan font-size="7" dy="2">2</tspan></text>
<rect x="315" y="236" width="198" height="132" rx="10" fill="#e8e6f9"/>
<text x="334" y="235" font-family="Liberation Sans, sans-serif" font-size="14.6" fill="#8a50c0">Neuronal Ca<tspan font-size="9.5" dy="-6">2+</tspan><tspan dy="6"> dynamics</tspan></text>
<polygon points="251,290 290,290 290,282 312,300 290,318 290,310 251,310 261,300" fill="url(#purpArrow)"/>
<polygon points="320.5,265.5 367.5,239 367.5,292 320.5,319" fill="url(#caG)" stroke="#f0f4f0" stroke-width="0.7"/><circle cx="337.1" cy="264.2" r="1.5" fill="#8cff50" opacity="0.9"/><circle cx="326.5" cy="289.4" r="1.2" fill="#8cff50" opacity="0.9"/><circle cx="325.9" cy="288.3" r="0.8" fill="#8cff50" opacity="0.9"/><circle cx="341.7" cy="257.6" r="0.9" fill="#8cff50" opacity="0.9"/><circle cx="341.3" cy="295.7" r="0.9" fill="#8cff50" opacity="0.9"/><circle cx="332.9" cy="290.4" r="1.7" fill="#8cff50" opacity="0.9"/><circle cx="347.7" cy="270.6" r="1.8" fill="#8cff50" opacity="0.9"/><circle cx="325.5" cy="306.1" r="1.1" fill="#8cff50" opacity="0.9"/><circle cx="329.6" cy="266.8" r="1.1" fill="#8cff50" opacity="0.9"/><polygon points="334.5,265.5 381.5,239 381.5,292 334.5,319" fill="url(#caG)" stroke="#f0f4f0" stroke-width="0.7"/><circle cx="371.8" cy="254.2" r="1.4" fill="#8cff50" opacity="0.9"/><circle cx="364.3" cy="267.9" r="1.3" fill="#8cff50" opacity="0.9"/><circle cx="340.1" cy="265.8" r="1.0" fill="#8cff50" opacity="0.9"/><circle cx="366.1" cy="269.7" r="1.1" fill="#8cff50" opacity="0.9"/><circle cx="362.1" cy="273.2" r="1.1" fill="#8cff50" opacity="0.9"/><circle cx="370.9" cy="280.6" r="1.0" fill="#8cff50" opacity="0.9"/><circle cx="361.6" cy="277.1" r="1.7" fill="#8cff50" opacity="0.9"/><circle cx="368.1" cy="261.6" r="1.8" fill="#8cff50" opacity="0.9"/><circle cx="342.5" cy="282.4" r="1.6" fill="#8cff50" opacity="0.9"/><polygon points="350.8,265.5 397.8,239 397.8,292 350.8,319" fill="url(#caG)" stroke="#f0f4f0" stroke-width="0.7"/><circle cx="360.2" cy="285.2" r="0.8" fill="#8cff50" opacity="0.9"/><circle cx="381.9" cy="286.8" r="1.4" fill="#8cff50" opacity="0.9"/><circle cx="390.6" cy="259.4" r="1.5" fill="#8cff50" opacity="0.9"/><circle cx="378.8" cy="279.3" r="1.3" fill="#8cff50" opacity="0.9"/><circle cx="389.1" cy="291.8" r="1.3" fill="#8cff50" opacity="0.9"/><circle cx="381.7" cy="251.7" r="1.5" fill="#8cff50" opacity="0.9"/><circle cx="381.0" cy="298.8" r="1.6" fill="#8cff50" opacity="0.9"/><circle cx="365.8" cy="276.9" r="1.5" fill="#8cff50" opacity="0.9"/><circle cx="354.7" cy="286.9" r="1.0" fill="#8cff50" opacity="0.9"/>
<polygon points="429,265.5 476,239 476,292 429,319" fill="url(#caG)" stroke="#f0f4f0" stroke-width="0.7"/><circle cx="436.9" cy="264.5" r="1.6" fill="#8cff50" opacity="0.9"/><circle cx="437.4" cy="273.7" r="1.2" fill="#8cff50" opacity="0.9"/><circle cx="468.6" cy="247.9" r="1.2" fill="#8cff50" opacity="0.9"/><circle cx="455.1" cy="295.6" r="1.6" fill="#8cff50" opacity="0.9"/><circle cx="468.3" cy="257.9" r="1.2" fill="#8cff50" opacity="0.9"/><circle cx="447.1" cy="300.1" r="1.8" fill="#8cff50" opacity="0.9"/><circle cx="438.3" cy="269.6" r="1.0" fill="#8cff50" opacity="0.9"/><circle cx="441.8" cy="283.1" r="1.4" fill="#8cff50" opacity="0.9"/><circle cx="443.0" cy="258.3" r="1.2" fill="#8cff50" opacity="0.9"/><polygon points="443,265.5 490,239 490,292 443,319" fill="url(#caG)" stroke="#f0f4f0" stroke-width="0.7"/><circle cx="461.5" cy="284.0" r="1.8" fill="#8cff50" opacity="0.9"/><circle cx="475.0" cy="273.9" r="1.4" fill="#8cff50" opacity="0.9"/><circle cx="474.4" cy="251.1" r="1.7" fill="#8cff50" opacity="0.9"/><circle cx="478.8" cy="289.7" r="1.6" fill="#8cff50" opacity="0.9"/><circle cx="462.5" cy="275.0" r="0.9" fill="#8cff50" opacity="0.9"/><circle cx="472.6" cy="252.5" r="0.9" fill="#8cff50" opacity="0.9"/><circle cx="454.8" cy="267.5" r="1.1" fill="#8cff50" opacity="0.9"/><circle cx="448.2" cy="263.1" r="1.0" fill="#8cff50" opacity="0.9"/><circle cx="450.3" cy="280.1" r="0.8" fill="#8cff50" opacity="0.9"/><polygon points="459.3,265.5 506.3,239 506.3,292 459.3,319" fill="url(#caG)" stroke="#f0f4f0" stroke-width="0.7"/><circle cx="499.0" cy="274.5" r="0.9" fill="#8cff50" opacity="0.9"/><circle cx="472.9" cy="275.8" r="1.2" fill="#8cff50" opacity="0.9"/><circle cx="467.5" cy="303.9" r="1.8" fill="#8cff50" opacity="0.9"/><circle cx="481.9" cy="277.6" r="0.9" fill="#8cff50" opacity="0.9"/><circle cx="466.6" cy="279.0" r="1.1" fill="#8cff50" opacity="0.9"/><circle cx="497.1" cy="252.9" r="0.8" fill="#8cff50" opacity="0.9"/><circle cx="502.2" cy="268.4" r="0.9" fill="#8cff50" opacity="0.9"/><circle cx="485.1" cy="252.9" r="1.3" fill="#8cff50" opacity="0.9"/><circle cx="503.4" cy="284.5" r="1.5" fill="#8cff50" opacity="0.9"/>
<circle cx="406.0" cy="278" r="2" fill="#111"/>
<circle cx="412.5" cy="278" r="2" fill="#111"/>
<circle cx="419.0" cy="278" r="2" fill="#111"/>
<polyline points="326.0,327.3 327.3,327.2 328.5,327.5 329.8,326.6 331.0,327.0 332.3,326.6 333.6,327.2 334.8,327.4 336.1,326.6 337.3,326.3 338.6,326.5 339.8,326.6 341.1,326.6 342.4,326.7 343.6,327.4 344.9,327.0 346.1,327.1 347.4,326.3 348.7,325.9 349.9,325.9 351.2,326.3 352.4,325.9 353.7,325.7 355.0,326.6 356.2,326.0 357.5,326.0 358.7,326.1 360.0,327.0 361.3,326.9 362.5,325.0 363.8,324.8 365.0,325.3 366.3,325.2 367.5,325.2 368.8,325.6 370.1,326.1 371.3,323.6 372.6,322.6 373.8,324.5 375.1,324.3 376.4,324.5 377.6,325.1 378.9,325.5 380.1,326.1 381.4,326.8 382.7,326.1 383.9,326.8 385.2,326.3 386.4,323.9 387.7,318.5 388.9,318.7 390.2,319.8 391.5,321.6 392.7,323.5 394.0,324.4 395.2,325.1 396.5,324.6 397.8,325.1 399.0,326.4 400.3,325.7 401.5,325.6 402.8,325.1 404.1,323.8 405.3,324.3 406.6,325.5 407.8,326.1 409.1,325.1 410.4,325.8 411.6,326.2 412.9,325.8 414.1,326.6 415.4,326.1 416.6,326.3 417.9,327.2 419.2,327.2 420.4,327.2 421.7,327.3 422.9,326.8 424.2,327.3 425.5,327.1 426.7,327.5 428.0,326.4 429.2,327.2 430.5,327.0 431.8,326.9 433.0,326.4 434.3,326.6 435.5,323.3 436.8,323.6 438.1,324.3 439.3,324.9 440.6,325.2 441.8,323.1 443.1,324.1 444.3,325.1 445.6,324.5 446.9,325.9 448.1,325.8 449.4,325.7 450.6,326.2 451.9,326.7 453.2,326.5 454.4,326.6 455.7,326.3 456.9,327.3 458.2,326.8 459.5,327.2 460.7,327.2 462.0,326.5 463.2,326.9 464.5,326.9 465.7,326.6 467.0,326.4 468.3,327.1 469.5,326.8 470.8,327.0 472.0,327.0 473.3,326.7 474.6,327.1 475.8,326.9 477.1,327.0 478.3,326.4 479.6,326.7 480.9,326.5 482.1,326.4 483.4,327.3 484.6,326.9 485.9,326.4 487.2,326.5 488.4,327.1 489.7,325.9 490.9,325.4 492.2,326.3 493.4,326.4 494.7,326.8 496.0,326.2 497.2,326.1 498.5,326.1 499.7,327.2 501.0,326.5" fill="none" stroke="#cc60e4" stroke-width="1"/>
<polyline points="326.0,335.3 327.3,336.0 328.5,335.0 329.8,334.8 331.0,335.9 332.3,334.9 333.6,335.6 334.8,335.5 336.1,334.8 337.3,335.0 338.6,336.0 339.8,335.6 341.1,335.5 342.4,335.7 343.6,335.9 344.9,335.8 346.1,335.2 347.4,336.2 348.7,335.4 349.9,335.6 351.2,336.2 352.4,335.7 353.7,333.9 355.0,331.6 356.2,333.0 357.5,332.4 358.7,333.2 360.0,333.4 361.3,334.9 362.5,334.9 363.8,335.5 365.0,334.6 366.3,335.4 367.5,335.7 368.8,335.4 370.1,334.5 371.3,330.9 372.6,330.4 373.8,331.7 375.1,331.6 376.4,332.8 377.6,333.2 378.9,334.5 380.1,334.9 381.4,334.3 382.7,334.9 383.9,335.5 385.2,334.4 386.4,335.0 387.7,334.8 388.9,335.9 390.2,334.8 391.5,336.0 392.7,334.9 394.0,333.5 395.2,331.9 396.5,332.4 397.8,332.6 399.0,334.0 400.3,334.6 401.5,334.4 402.8,335.0 404.1,335.4 405.3,335.5 406.6,335.7 407.8,335.6 409.1,335.5 410.4,335.6 411.6,335.0 412.9,335.7 414.1,335.4 415.4,335.9 416.6,335.7 417.9,336.1 419.2,335.8 420.4,336.2 421.7,335.2 422.9,335.4 424.2,335.9 425.5,335.5 426.7,334.9 428.0,336.0 429.2,335.0 430.5,335.6 431.8,335.5 433.0,335.0 434.3,335.6 435.5,335.5 436.8,335.2 438.1,334.7 439.3,332.4 440.6,330.6 441.8,331.7 443.1,332.6 444.3,333.5 445.6,334.1 446.9,334.9 448.1,335.0 449.4,335.3 450.6,334.6 451.9,335.4 453.2,335.6 454.4,335.8 455.7,334.8 456.9,334.8 458.2,334.7 459.5,332.8 460.7,332.3 462.0,333.0 463.2,333.4 464.5,334.3 465.7,334.3 467.0,334.8 468.3,334.1 469.5,334.2 470.8,335.0 472.0,335.5 473.3,334.6 474.6,335.5 475.8,335.5 477.1,336.1 478.3,335.6 479.6,335.5 480.9,335.4 482.1,335.9 483.4,335.5 484.6,336.2 485.9,334.9 487.2,334.1 488.4,334.1 489.7,335.0 490.9,335.2 492.2,335.1 493.4,335.3 494.7,334.9 496.0,335.1 497.2,334.9 498.5,335.1 499.7,335.0 501.0,334.8" fill="none" stroke="#b858e0" stroke-width="1"/>
<polyline points="326.0,345.8 327.3,345.8 328.5,344.9 329.8,346.1 331.0,345.3 332.3,345.4 333.6,346.2 334.8,345.1 336.1,345.1 337.3,345.4 338.6,345.3 339.8,345.2 341.1,346.1 342.4,345.6 343.6,345.6 344.9,345.1 346.1,345.2 347.4,345.1 348.7,345.5 349.9,345.1 351.2,345.3 352.4,345.3 353.7,346.0 355.0,346.3 356.2,346.1 357.5,345.8 358.7,342.1 360.0,334.2 361.3,337.0 362.5,338.8 363.8,340.2 365.0,341.3 366.3,342.5 367.5,343.9 368.8,343.3 370.1,343.8 371.3,344.5 372.6,344.7 373.8,344.7 375.1,345.7 376.4,344.9 377.6,345.6 378.9,345.9 380.1,345.7 381.4,345.1 382.7,345.9 383.9,345.2 385.2,344.9 386.4,345.6 387.7,345.7 388.9,345.6 390.2,345.3 391.5,345.2 392.7,345.4 394.0,345.4 395.2,346.2 396.5,346.1 397.8,345.9 399.0,345.3 400.3,345.9 401.5,345.5 402.8,346.3 404.1,346.2 405.3,345.9 406.6,345.4 407.8,345.3 409.1,345.4 410.4,345.9 411.6,345.6 412.9,345.6 414.1,345.6 415.4,346.1 416.6,345.0 417.9,346.0 419.2,344.9 420.4,345.0 421.7,346.3 422.9,345.7 424.2,345.2 425.5,344.9 426.7,345.7 428.0,345.9 429.2,346.0 430.5,345.0 431.8,346.0 433.0,345.5 434.3,346.1 435.5,345.6 436.8,345.0 438.1,346.1 439.3,345.2 440.6,345.6 441.8,345.1 443.1,345.1 444.3,341.9 445.6,339.7 446.9,341.5 448.1,343.1 449.4,343.8 450.6,341.4 451.9,337.5 453.2,339.2 454.4,340.9 455.7,341.8 456.9,342.7 458.2,342.7 459.5,344.4 460.7,343.8 462.0,344.0 463.2,345.2 464.5,344.3 465.7,344.8 467.0,344.6 468.3,345.6 469.5,345.5 470.8,345.6 472.0,344.7 473.3,345.4 474.6,345.7 475.8,345.6 477.1,345.9 478.3,346.2 479.6,346.1 480.9,345.1 482.1,345.9 483.4,345.0 484.6,345.9 485.9,345.9 487.2,342.7 488.4,341.4 489.7,342.2 490.9,342.2 492.2,342.9 493.4,343.5 494.7,344.1 496.0,344.0 497.2,344.2 498.5,344.9 499.7,344.8 501.0,345.9" fill="none" stroke="#a058e4" stroke-width="1"/>
<polyline points="326.0,353.7 327.3,354.1 328.5,353.6 329.8,353.8 331.0,354.3 332.3,354.6 333.6,353.4 334.8,354.5 336.1,354.0 337.3,354.2 338.6,354.3 339.8,353.7 341.1,353.3 342.4,354.3 343.6,353.8 344.9,354.3 346.1,353.9 347.4,354.1 348.7,354.5 349.9,354.5 351.2,354.4 352.4,353.4 353.7,354.0 355.0,354.4 356.2,353.4 357.5,353.3 358.7,354.1 360.0,354.5 361.3,354.4 362.5,354.6 363.8,354.2 365.0,354.6 366.3,354.4 367.5,354.3 368.8,353.3 370.1,352.0 371.3,352.5 372.6,353.2 373.8,353.4 375.1,353.4 376.4,353.8 377.6,353.9 378.9,354.4 380.1,354.1 381.4,353.2 382.7,354.4 383.9,353.9 385.2,353.7 386.4,353.4 387.7,354.4 388.9,354.3 390.2,354.3 391.5,354.1 392.7,354.1 394.0,353.4 395.2,353.5 396.5,353.5 397.8,354.7 399.0,354.7 400.3,353.7 401.5,353.4 402.8,354.0 404.1,353.9 405.3,354.7 406.6,354.2 407.8,353.4 409.1,353.5 410.4,353.5 411.6,353.3 412.9,354.4 414.1,354.5 415.4,354.5 416.6,354.0 417.9,353.7 419.2,353.4 420.4,353.7 421.7,353.8 422.9,353.6 424.2,354.1 425.5,353.9 426.7,354.6 428.0,353.6 429.2,354.4 430.5,353.4 431.8,353.8 433.0,353.3 434.3,352.6 435.5,352.9 436.8,352.7 438.1,352.8 439.3,353.9 440.6,354.1 441.8,353.5 443.1,353.6 444.3,353.9 445.6,354.2 446.9,353.7 448.1,354.6 449.4,354.2 450.6,354.0 451.9,353.3 453.2,353.8 454.4,353.4 455.7,354.0 456.9,354.4 458.2,354.3 459.5,353.3 460.7,353.7 462.0,354.3 463.2,354.7 464.5,354.0 465.7,353.8 467.0,354.1 468.3,353.5 469.5,349.2 470.8,348.3 472.0,350.2 473.3,346.3 474.6,344.7 475.8,346.7 477.1,348.0 478.3,349.9 479.6,350.1 480.9,351.0 482.1,351.9 483.4,352.8 484.6,352.1 485.9,353.3 487.2,352.8 488.4,353.8 489.7,353.9 490.9,353.3 492.2,354.0 493.4,353.1 494.7,353.8 496.0,354.3 497.2,354.3 498.5,354.0 499.7,353.7 501.0,353.3" fill="none" stroke="#8c60e4" stroke-width="1"/>
<polyline points="326.0,364.8 327.3,364.4 328.5,364.7 329.8,363.6 331.0,364.8 332.3,364.9 333.6,364.9 334.8,364.4 336.1,363.7 337.3,363.8 338.6,364.0 339.8,363.6 341.1,363.7 342.4,364.5 343.6,364.7 344.9,363.7 346.1,364.0 347.4,365.0 348.7,359.8 349.9,352.0 351.2,354.2 352.4,356.6 353.7,358.6 355.0,360.2 356.2,360.9 357.5,361.6 358.7,361.4 360.0,363.1 361.3,362.3 362.5,363.6 363.8,363.7 365.0,363.1 366.3,360.1 367.5,359.5 368.8,361.1 370.1,361.4 371.3,362.2 372.6,361.9 373.8,363.3 375.1,363.4 376.4,362.9 377.6,364.3 378.9,363.9 380.1,363.5 381.4,363.6 382.7,364.7 383.9,364.8 385.2,364.8 386.4,363.6 387.7,364.6 388.9,363.9 390.2,363.7 391.5,364.5 392.7,364.6 394.0,363.6 395.2,364.1 396.5,364.6 397.8,364.0 399.0,364.5 400.3,364.6 401.5,365.0 402.8,363.9 404.1,363.7 405.3,364.1 406.6,363.7 407.8,365.0 409.1,364.7 410.4,364.3 411.6,363.7 412.9,363.7 414.1,364.5 415.4,364.6 416.6,364.4 417.9,364.3 419.2,363.7 420.4,364.7 421.7,363.9 422.9,364.0 424.2,363.8 425.5,363.9 426.7,364.1 428.0,364.5 429.2,364.6 430.5,364.5 431.8,363.9 433.0,364.9 434.3,364.7 435.5,363.9 436.8,364.7 438.1,364.9 439.3,363.6 440.6,362.4 441.8,363.2 443.1,362.5 444.3,362.9 445.6,363.0 446.9,364.1 448.1,364.5 449.4,364.6 450.6,364.1 451.9,363.8 453.2,364.2 454.4,364.6 455.7,364.3 456.9,364.1 458.2,364.0 459.5,363.9 460.7,363.8 462.0,364.0 463.2,364.8 464.5,363.8 465.7,364.6 467.0,364.2 468.3,364.5 469.5,364.0 470.8,364.7 472.0,364.7 473.3,364.7 474.6,364.8 475.8,363.8 477.1,364.2 478.3,364.5 479.6,364.4 480.9,363.6 482.1,364.3 483.4,364.7 484.6,363.9 485.9,364.1 487.2,363.6 488.4,364.9 489.7,364.3 490.9,363.9 492.2,363.8 493.4,363.7 494.7,364.9 496.0,364.6 497.2,364.8 498.5,364.7 499.7,363.6 501.0,364.2" fill="none" stroke="#7868e0" stroke-width="1"/>
<polygon points="34,492 346,410 511,492 196,574" fill="#e1e8f6"/>
<path d="M69,421 C69,440 72,455 92,456 C140,455 215,378 262,375 C300,373 320,392 309,404 C300,414 288,418 273,421" fill="none" stroke="#dc7c2c" stroke-width="1.6"/>
<path d="M235.8,457.5 L236.1,456.8 L236.6,456.1 L237.3,455.3 L238.1,454.6 L238.9,453.8 L239.9,453.0 L240.8,452.3 L241.7,451.7 L242.6,451.2 L243.5,450.7 L244.5,450.2 L245.5,449.8 L246.5,449.4 L247.6,449.0 L248.8,448.7 L250.0,448.3 L251.3,447.9 L252.5,447.5 L253.8,447.0 L255.2,446.6 L256.7,446.2 L258.2,445.9 L259.9,445.8 L261.7,445.8 L263.7,446.1 L265.9,446.6 L268.2,447.2 L270.6,448.0 L273.1,448.7 L275.5,449.3 L277.8,449.8 L280.0,450.0 L282.0,449.9 L283.9,449.7 L285.8,449.2 L287.6,448.7 L289.4,448.1 L291.2,447.6 L293.1,447.1 L295.0,446.7 L297.0,446.4 L299.1,446.0 L301.3,445.7 L303.5,445.4 L305.6,445.2 L307.7,445.0 L309.8,445.0 L311.7,445.0 L313.5,445.1 L315.3,445.4 L317.1,445.6 L318.8,446.0 L320.4,446.5 L322.0,447.0 L323.5,447.6 L325.0,448.3 L326.4,449.1 L327.8,450.0 L329.2,451.1 L330.5,452.2 L331.8,453.3 L332.9,454.5 L334.0,455.6 L335.0,456.7 L335.9,457.8 L336.7,458.8 L337.4,459.9 L338.1,461.0 L338.7,462.0 L339.2,463.0 L339.6,464.0 L340.0,465.0 L340.3,465.9 L340.5,466.8 L340.6,467.6 L340.7,468.5 L340.7,469.3 L340.7,470.1 L340.7,470.9 L340.8,471.7 L340.9,472.5 L340.9,473.4 L340.9,474.2 L340.9,475.0 L341.0,475.8 L341.1,476.6 L341.4,477.5 L341.7,478.3 L342.2,479.2 L343.0,480.0 L343.8,481.0 L344.7,481.9 L345.6,482.7 L346.4,483.6 L347.1,484.3 L347.5,485.0 L347.8,485.6 L348.1,486.2 L348.2,486.7 L348.3,487.1 L348.2,487.5 L347.9,487.8 L347.4,488.1 L346.7,488.3 L345.6,488.4 L344.1,488.4 L342.4,488.4 L340.5,488.3 L338.5,488.1 L336.6,487.9 L334.8,487.7 L333.3,487.5 L332.0,487.2 L330.8,486.9 L329.7,486.4 L328.7,486.0 L327.8,485.6 L326.8,485.3 L325.9,485.0 L325.0,485.0 L324.1,485.1 L323.2,485.4 L322.4,485.8 L321.5,486.2 L320.7,486.7 L319.9,487.3 L319.1,487.8 L318.3,488.3 L317.5,488.8 L316.6,489.4 L315.8,490.0 L315.0,490.6 L314.2,491.1 L313.4,491.7 L312.5,492.1 L311.7,492.5 L310.8,492.8 L310.0,493.1 L309.0,493.4 L308.1,493.6 L307.3,493.7 L306.4,493.7 L305.7,493.6 L305.0,493.3 L304.4,492.8 L304.0,492.1 L303.7,491.3 L303.3,490.4 L303.0,489.4 L302.7,488.4 L302.3,487.5 L301.7,486.7 L301.0,486.0 L300.3,485.2 L299.5,484.4 L298.7,483.7 L297.8,483.0 L296.9,482.4 L295.9,482.0 L295.0,481.7 L294.0,481.5 L292.9,481.5 L291.8,481.6 L290.6,481.8 L289.5,482.0 L288.5,482.4 L287.5,482.8 L286.7,483.3 L286.1,484.0 L285.6,484.9 L285.3,485.9 L285.0,487.0 L284.7,488.0 L284.4,488.9 L283.9,489.6 L283.3,490.0 L282.5,490.0 L281.6,489.8 L280.5,489.3 L279.5,488.7 L278.3,488.0 L277.2,487.4 L276.1,486.9 L275.0,486.7 L274.0,486.7 L272.9,486.7 L271.9,486.9 L270.9,487.1 L269.8,487.4 L268.8,487.7 L267.7,488.0 L266.7,488.3 L265.6,488.6 L264.4,489.1 L263.3,489.5 L262.1,490.0 L261.0,490.4 L259.9,490.7 L259.0,490.9 L258.3,490.8 L257.8,490.5 L257.3,490.0 L257.1,489.3 L256.9,488.5 L256.8,487.6 L256.7,486.7 L256.7,485.8 L256.7,485.0 L256.8,484.2 L257.0,483.4 L257.4,482.6 L257.7,481.8 L258.0,481.0 L258.3,480.1 L258.4,479.2 L258.3,478.3 L258.0,477.3 L257.6,476.3 L257.1,475.2 L256.4,474.0 L255.7,472.9 L254.9,471.9 L254.1,470.9 L253.3,470.0 L252.4,469.2 L251.4,468.5 L250.4,467.8 L249.3,467.2 L248.1,466.6 L247.0,466.1 L246.0,465.5 L245.0,465.0 L244.1,464.5 L243.1,464.1 L242.2,463.7 L241.3,463.3 L240.4,462.9 L239.6,462.5 L238.9,462.1 L238.3,461.7 L237.7,461.2 L237.2,460.8 L236.7,460.3 L236.3,459.8 L235.9,459.2 L235.7,458.7 L235.7,458.1 Z" fill="#6a5b52"/>
<path d="M300,478 C310,476 322,478 330,484 L318,488 L311,492 L305,493 L302,486 Z" fill="#5c4e46"/>
<path d="M340,468 C360,465 382,452 396,428" fill="none" stroke="#d0a090" stroke-width="3" stroke-linecap="round"/>
<g stroke="#e0b0a8" stroke-width="2.4" stroke-linecap="round" fill="none"><path d="M258,490 L247,494"/><path d="M283,490 L280,500"/><path d="M308,493 L296,500"/><path d="M346,487 L356,500"/></g>
<ellipse cx="270" cy="452" rx="6.5" ry="5.5" fill="#e4b4b4"/>
<circle cx="251" cy="454" r="1.2" fill="#222"/>
<path d="M255,425 L264,423 L266.4,449 L254,450 Z" fill="#2a2a2a"/>
<path d="M256.5,417 C258,414 262,413 265,414 L273,417 L273.5,423 L262,424 L257,425 Z" fill="#333"/>
<circle cx="259" cy="418" r="2.5" fill="#c8c8a0" opacity="0.8"/>
<path d="M256,420 C262,412 275,418 285,410" fill="none" stroke="#e8d890" stroke-width="2"/>
<text x="31" y="600.5" font-family="Liberation Sans, sans-serif" font-weight="bold" font-size="17" fill="#000">B</text>
<rect x="193.7" y="607.5" width="137.8" height="173.5" fill="#d2dbee"/>
<path d="M83.5,717.9 L84.6,716.9 L86.0,715.6 L87.7,714.0 L89.5,712.2 L91.5,710.3 L93.5,708.4 L95.5,706.5 L97.3,704.6 L99.0,702.8 L100.7,700.9 L102.4,698.9 L104.2,696.9 L105.9,694.9 L107.6,693.0 L109.3,691.3 L111.1,689.7 L112.8,688.4 L114.5,687.2 L116.2,686.2 L117.9,685.2 L119.7,684.3 L121.4,683.4 L123.1,682.5 L124.8,681.4 L126.6,680.3 L128.3,679.2 L130.0,678.1 L131.7,676.9 L133.4,675.7 L135.2,674.4 L136.9,673.0 L138.6,671.4 L140.4,669.7 L142.2,667.7 L144.0,665.6 L145.8,663.3 L147.6,661.1 L149.3,658.9 L150.9,656.8 L152.4,654.8 L153.7,653.0 L154.8,651.3 L155.8,649.6 L156.7,648.0 L157.6,646.4 L158.5,644.8 L159.5,643.2 L160.7,641.6 L161.9,639.9 L163.2,638.2 L164.6,636.5 L166.0,634.8 L167.4,633.1 L168.9,631.5 L170.3,629.9 L171.7,628.3 L173.1,626.7 L174.6,625.0 L176.1,623.4 L177.5,621.7 L179.0,620.2 L180.3,618.8 L181.6,617.6 L182.7,616.7 L183.6,615.9 L184.4,615.4 L185.1,615.0 L185.6,614.8 L186.2,614.7 L186.8,614.7 L187.4,614.8 L188.2,615.0 L189.1,615.2 L190.1,615.5 L191.1,615.9 L192.2,616.5 L193.3,617.1 L194.4,617.9 L195.4,618.8 L196.5,620.0 L197.5,621.3 L198.6,622.7 L199.6,624.3 L200.6,626.1 L201.7,628.0 L202.7,630.1 L203.7,632.4 L204.8,634.9 L205.8,637.7 L206.8,640.8 L207.9,644.1 L208.9,647.6 L209.9,651.1 L211.0,654.7 L212.0,658.2 L213.0,661.5 L214.1,664.7 L215.1,667.8 L216.1,670.9 L217.2,673.9 L218.2,677.0 L219.2,680.1 L220.3,683.2 L221.3,686.4 L222.3,689.6 L223.4,693.0 L224.4,696.4 L225.4,699.8 L226.5,703.2 L227.5,706.5 L228.5,709.8 L229.6,712.9 L230.6,716.0 L231.6,719.0 L232.5,722.0 L233.5,724.9 L234.5,727.7 L235.6,730.6 L236.7,733.4 L237.8,736.2 L239.1,739.0 L240.4,741.9 L241.8,744.8 L243.2,747.6 L244.6,750.4 L246.0,753.0 L247.4,755.5 L248.8,757.8 L250.2,759.8 L251.6,761.7 L253.0,763.4 L254.4,764.9 L255.7,766.4 L257.1,767.7 L258.5,769.0 L259.9,770.2 L261.2,771.3 L262.6,772.4 L263.9,773.3 L265.2,774.1 L266.6,774.9 L267.9,775.6 L269.4,776.2 L270.9,776.9 L272.4,777.4 L274.0,778.0 L275.6,778.4 L277.3,778.9 L279.0,779.3 L280.8,779.6 L282.7,779.9 L284.7,780.2 L286.9,780.4 L289.6,780.6 L292.3,780.7 L295.2,780.8 L297.9,780.9 L300.4,780.9 L302.4,781.0 L304.0,781.0 L304.0,781 L83.5,781 Z" fill="#a2f2d2" fill-opacity="0.75"/>
<path d="M83.5,781.0 L87.6,781.0 L93.2,781.0 L99.9,781.1 L107.3,781.1 L114.7,781.1 L121.9,781.1 L128.1,781.1 L133.1,781.0 L136.8,780.9 L139.7,780.7 L142.0,780.5 L143.8,780.3 L145.3,780.1 L146.7,779.9 L148.1,779.6 L149.6,779.3 L151.3,779.1 L152.8,778.9 L154.2,778.6 L155.5,778.4 L156.8,778.1 L158.0,777.7 L159.3,777.3 L160.7,776.9 L162.0,776.3 L163.4,775.8 L164.8,775.3 L166.2,774.7 L167.5,774.0 L168.9,773.2 L170.3,772.2 L171.7,771.0 L173.1,769.7 L174.4,768.3 L175.8,766.8 L177.2,765.1 L178.6,763.2 L179.9,761.1 L181.3,758.7 L182.7,756.1 L184.1,753.2 L185.5,750.0 L186.8,746.6 L188.2,743.0 L189.6,739.2 L191.0,735.1 L192.4,730.8 L193.7,726.2 L195.1,721.3 L196.5,716.0 L197.9,710.4 L199.2,704.5 L200.6,698.6 L202.0,692.7 L203.4,686.9 L204.8,681.4 L206.1,675.9 L207.6,670.3 L209.0,664.6 L210.4,659.1 L211.8,653.7 L213.2,648.7 L214.5,644.0 L215.8,639.9 L216.9,636.3 L218.0,633.1 L219.1,630.2 L220.1,627.7 L221.1,625.4 L222.0,623.4 L223.0,621.6 L224.0,620.0 L225.1,618.6 L226.1,617.4 L227.1,616.5 L228.2,615.8 L229.2,615.4 L230.2,615.1 L231.3,615.0 L232.3,615.0 L233.3,615.2 L234.4,615.6 L235.4,616.2 L236.4,617.0 L237.5,617.9 L238.5,619.0 L239.5,620.3 L240.6,621.6 L241.6,623.1 L242.6,624.8 L243.6,626.6 L244.5,628.5 L245.5,630.6 L246.6,632.9 L247.7,635.5 L248.8,638.2 L250.1,641.4 L251.4,644.9 L252.8,648.6 L254.2,652.6 L255.6,656.6 L257.0,660.6 L258.5,664.5 L259.9,668.1 L261.2,671.7 L262.6,675.2 L264.0,678.8 L265.4,682.2 L266.8,685.6 L268.1,688.8 L269.5,691.9 L270.9,694.7 L272.2,697.2 L273.4,699.5 L274.5,701.6 L275.7,703.5 L277.0,705.4 L278.4,707.2 L280.0,709.2 L281.9,711.3 L284.1,713.5 L286.5,715.9 L289.1,718.4 L291.9,720.8 L294.8,723.2 L297.8,725.5 L300.9,727.6 L304.0,729.5 L307.2,731.2 L310.6,732.6 L314.1,733.9 L317.7,735.0 L321.3,736.1 L324.9,737.2 L328.3,738.3 L331.5,739.5 L334.6,740.7 L337.5,742.0 L340.3,743.2 L343.1,744.5 L345.7,745.7 L348.4,747.0 L351.0,748.2 L353.6,749.5 L356.1,750.7 L358.6,752.0 L361.0,753.3 L363.4,754.6 L365.7,755.9 L368.1,757.2 L370.5,758.3 L372.8,759.4 L375.2,760.4 L377.6,761.3 L380.0,762.2 L382.3,762.9 L384.7,763.7 L387.1,764.5 L389.6,765.3 L392.1,766.1 L394.7,766.9 L397.3,767.8 L400.0,768.7 L402.6,769.5 L405.4,770.4 L408.2,771.2 L411.1,772.0 L414.2,772.7 L417.4,773.4 L420.7,774.0 L424.1,774.5 L427.6,775.1 L431.2,775.6 L434.7,776.0 L438.3,776.5 L441.7,776.9 L445.4,777.2 L449.3,777.5 L453.3,777.7 L457.2,777.9 L461.0,778.1 L464.3,778.3 L467.2,778.4 L469.3,778.5 L469.3,781 L83.5,781 Z" fill="#70e470" fill-opacity="0.55"/>
<line x1="83.5" y1="607.5" x2="469.2" y2="607.5" stroke="#333" stroke-width="1"/>
<line x1="83.5" y1="607.5" x2="83.5" y2="781" stroke="#3c8ccc" stroke-width="1"/>
<line x1="469.2" y1="607.5" x2="469.2" y2="781" stroke="#e07a30" stroke-width="1"/>
<line x1="83.5" y1="781" x2="469.2" y2="781" stroke="#22a050" stroke-width="1"/>
<path d="M83.5,717.9 L84.6,716.9 L86.0,715.6 L87.7,714.0 L89.5,712.2 L91.5,710.3 L93.5,708.4 L95.5,706.5 L97.3,704.6 L99.0,702.8 L100.7,700.9 L102.4,698.9 L104.2,696.9 L105.9,694.9 L107.6,693.0 L109.3,691.3 L111.1,689.7 L112.8,688.4 L114.5,687.2 L116.2,686.2 L117.9,685.2 L119.7,684.3 L121.4,683.4 L123.1,682.5 L124.8,681.4 L126.6,680.3 L128.3,679.2 L130.0,678.1 L131.7,676.9 L133.4,675.7 L135.2,674.4 L136.9,673.0 L138.6,671.4 L140.4,669.7 L142.2,667.7 L144.0,665.6 L145.8,663.3 L147.6,661.1 L149.3,658.9 L150.9,656.8 L152.4,654.8 L153.7,653.0 L154.8,651.3 L155.8,649.6 L156.7,648.0 L157.6,646.4 L158.5,644.8 L159.5,643.2 L160.7,641.6 L161.9,639.9 L163.2,638.2 L164.6,636.5 L166.0,634.8 L167.4,633.1 L168.9,631.5 L170.3,629.9 L171.7,628.3 L173.1,626.7 L174.6,625.0 L176.1,623.4 L177.5,621.7 L179.0,620.2 L180.3,618.8 L181.6,617.6 L182.7,616.7 L183.6,615.9 L184.4,615.4 L185.1,615.0 L185.6,614.8 L186.2,614.7 L186.8,614.7 L187.4,614.8 L188.2,615.0 L189.1,615.2 L190.1,615.5 L191.1,615.9 L192.2,616.5 L193.3,617.1 L194.4,617.9 L195.4,618.8 L196.5,620.0 L197.5,621.3 L198.6,622.7 L199.6,624.3 L200.6,626.1 L201.7,628.0 L202.7,630.1 L203.7,632.4 L204.8,634.9 L205.8,637.7 L206.8,640.8 L207.9,644.1 L208.9,647.6 L209.9,651.1 L211.0,654.7 L212.0,658.2 L213.0,661.5 L214.1,664.7 L215.1,667.8 L216.1,670.9 L217.2,673.9 L218.2,677.0 L219.2,680.1 L220.3,683.2 L221.3,686.4 L222.3,689.6 L223.4,693.0 L224.4,696.4 L225.4,699.8 L226.5,703.2 L227.5,706.5 L228.5,709.8 L229.6,712.9 L230.6,716.0 L231.6,719.0 L232.5,722.0 L233.5,724.9 L234.5,727.7 L235.6,730.6 L236.7,733.4 L237.8,736.2 L239.1,739.0 L240.4,741.9 L241.8,744.8 L243.2,747.6 L244.6,750.4 L246.0,753.0 L247.4,755.5 L248.8,757.8 L250.2,759.8 L251.6,761.7 L253.0,763.4 L254.4,764.9 L255.7,766.4 L257.1,767.7 L258.5,769.0 L259.9,770.2 L261.2,771.3 L262.6,772.4 L263.9,773.3 L265.2,774.1 L266.6,774.9 L267.9,775.6 L269.4,776.2 L270.9,776.9 L272.4,777.4 L274.0,778.0 L275.6,778.4 L277.3,778.9 L279.0,779.3 L280.8,779.6 L282.7,779.9 L284.7,780.2 L286.9,780.4 L289.6,780.6 L292.3,780.7 L295.2,780.8 L297.9,780.9 L300.4,780.9 L302.4,781.0 L304.0,781.0" fill="none" stroke="#1a9040" stroke-width="1.8" stroke-dasharray="5,3"/>
<path d="M83.5,781.0 L87.6,781.0 L93.2,781.0 L99.9,781.1 L107.3,781.1 L114.7,781.1 L121.9,781.1 L128.1,781.1 L133.1,781.0 L136.8,780.9 L139.7,780.7 L142.0,780.5 L143.8,780.3 L145.3,780.1 L146.7,779.9 L148.1,779.6 L149.6,779.3 L151.3,779.1 L152.8,778.9 L154.2,778.6 L155.5,778.4 L156.8,778.1 L158.0,777.7 L159.3,777.3 L160.7,776.9 L162.0,776.3 L163.4,775.8 L164.8,775.3 L166.2,774.7 L167.5,774.0 L168.9,773.2 L170.3,772.2 L171.7,771.0 L173.1,769.7 L174.4,768.3 L175.8,766.8 L177.2,765.1 L178.6,763.2 L179.9,761.1 L181.3,758.7 L182.7,756.1 L184.1,753.2 L185.5,750.0 L186.8,746.6 L188.2,743.0 L189.6,739.2 L191.0,735.1 L192.4,730.8 L193.7,726.2 L195.1,721.3 L196.5,716.0 L197.9,710.4 L199.2,704.5 L200.6,698.6 L202.0,692.7 L203.4,686.9 L204.8,681.4 L206.1,675.9 L207.6,670.3 L209.0,664.6 L210.4,659.1 L211.8,653.7 L213.2,648.7 L214.5,644.0 L215.8,639.9 L216.9,636.3 L218.0,633.1 L219.1,630.2 L220.1,627.7 L221.1,625.4 L222.0,623.4 L223.0,621.6 L224.0,620.0 L225.1,618.6 L226.1,617.4 L227.1,616.5 L228.2,615.8 L229.2,615.4 L230.2,615.1 L231.3,615.0 L232.3,615.0 L233.3,615.2 L234.4,615.6 L235.4,616.2 L236.4,617.0 L237.5,617.9 L238.5,619.0 L239.5,620.3 L240.6,621.6 L241.6,623.1 L242.6,624.8 L243.6,626.6 L244.5,628.5 L245.5,630.6 L246.6,632.9 L247.7,635.5 L248.8,638.2 L250.1,641.4 L251.4,644.9 L252.8,648.6 L254.2,652.6 L255.6,656.6 L257.0,660.6 L258.5,664.5 L259.9,668.1 L261.2,671.7 L262.6,675.2 L264.0,678.8 L265.4,682.2 L266.8,685.6 L268.1,688.8 L269.5,691.9 L270.9,694.7 L272.2,697.2 L273.4,699.5 L274.5,701.6 L275.7,703.5 L277.0,705.4 L278.4,707.2 L280.0,709.2 L281.9,711.3 L284.1,713.5 L286.5,715.9 L289.1,718.4 L291.9,720.8 L294.8,723.2 L297.8,725.5 L300.9,727.6 L304.0,729.5 L307.2,731.2 L310.6,732.6 L314.1,733.9 L317.7,735.0 L321.3,736.1 L324.9,737.2 L328.3,738.3 L331.5,739.5 L334.6,740.7 L337.5,742.0 L340.3,743.2 L343.1,744.5 L345.7,745.7 L348.4,747.0 L351.0,748.2 L353.6,749.5 L356.1,750.7 L358.6,752.0 L361.0,753.3 L363.4,754.6 L365.7,755.9 L368.1,757.2 L370.5,758.3 L372.8,759.4 L375.2,760.4 L377.6,761.3 L380.0,762.2 L382.3,762.9 L384.7,763.7 L387.1,764.5 L389.6,765.3 L392.1,766.1 L394.7,766.9 L397.3,767.8 L400.0,768.7 L402.6,769.5 L405.4,770.4 L408.2,771.2 L411.1,772.0 L414.2,772.7 L417.4,773.4 L420.7,774.0 L424.1,774.5 L427.6,775.1 L431.2,775.6 L434.7,776.0 L438.3,776.5 L441.7,776.9 L445.4,777.2 L449.3,777.5 L453.3,777.7 L457.2,777.9 L461.0,778.1 L464.3,778.3 L467.2,778.4 L469.3,778.5" fill="none" stroke="#12983c" stroke-width="1.8"/>
<path d="M83.5,712.3 L84.6,713.2 L86.0,714.4 L87.7,715.8 L89.5,717.3 L91.5,719.0 L93.5,720.6 L95.5,722.1 L97.3,723.5 L99.0,724.7 L100.7,725.9 L102.4,727.0 L104.2,728.1 L105.9,729.1 L107.6,730.1 L109.3,731.0 L111.1,731.8 L112.8,732.5 L114.5,733.2 L116.2,733.7 L117.9,734.2 L119.7,734.6 L121.4,735.0 L123.1,735.4 L124.8,735.7 L126.6,736.1 L128.3,736.5 L130.0,736.9 L131.7,737.2 L133.4,737.5 L135.2,737.8 L136.9,737.9 L138.6,738.0 L140.4,737.9 L142.2,737.7 L144.0,737.5 L145.8,737.1 L147.6,736.8 L149.3,736.4 L150.9,736.1 L152.4,735.7 L153.6,735.5 L154.6,735.3 L155.4,735.1 L156.2,734.9 L157.0,734.7 L157.9,734.4 L159.1,734.0 L160.7,733.5 L162.5,732.9 L164.7,732.2 L167.1,731.4 L169.6,730.6 L172.2,729.7 L174.9,728.7 L177.5,727.8 L179.9,726.8 L182.3,725.8 L184.7,724.8 L187.1,723.8 L189.4,722.7 L191.8,721.6 L194.2,720.4 L196.7,719.2 L199.2,717.9 L201.8,716.5 L204.4,715.1 L207.1,713.6 L209.7,712.1 L212.5,710.5 L215.3,708.8 L218.2,706.9 L221.3,705.0 L224.5,703.0 L227.8,700.8 L231.2,698.5 L234.7,696.2 L238.3,693.7 L241.8,691.2 L245.4,688.7 L248.8,686.0 L252.3,683.3 L255.7,680.4 L259.2,677.4 L262.6,674.4 L266.1,671.3 L269.5,668.3 L273.0,665.4 L276.4,662.6 L279.9,659.8 L283.5,657.1 L287.2,654.5 L290.9,651.9 L294.4,649.3 L297.8,646.9 L301.0,644.6 L304.0,642.4 L306.6,640.4 L309.0,638.5 L311.2,636.7 L313.3,634.9 L315.2,633.3 L317.0,631.8 L318.8,630.4 L320.5,629.0 L322.1,627.8 L323.6,626.7 L325.0,625.7 L326.3,624.8 L327.6,624.0 L328.9,623.2 L330.2,622.5 L331.5,621.8 L332.9,621.1 L334.3,620.5 L335.6,619.9 L337.0,619.3 L338.4,618.9 L339.8,618.4 L341.2,618.1 L342.5,617.9 L343.9,617.7 L345.3,617.6 L346.7,617.6 L348.0,617.6 L349.4,617.7 L350.8,617.9 L352.2,618.1 L353.6,618.4 L354.9,618.8 L356.3,619.1 L357.7,619.6 L359.1,620.1 L360.4,620.7 L361.8,621.3 L363.2,622.1 L364.6,622.9 L366.0,623.8 L367.3,624.9 L368.7,626.0 L370.1,627.2 L371.5,628.4 L372.8,629.7 L374.2,631.1 L375.6,632.4 L377.0,633.7 L378.3,635.1 L379.6,636.5 L380.9,638.0 L382.3,639.5 L383.7,641.0 L385.1,642.5 L386.6,644.1 L388.2,645.8 L389.9,647.5 L391.6,649.2 L393.3,651.0 L395.1,652.7 L396.9,654.5 L398.7,656.3 L400.4,658.1 L402.1,659.9 L403.9,661.7 L405.6,663.6 L407.3,665.4 L409.0,667.2 L410.7,669.0 L412.5,670.6 L414.2,672.1 L415.9,673.4 L417.6,674.5 L419.4,675.6 L421.1,676.5 L422.8,677.5 L424.5,678.4 L426.2,679.4 L428.0,680.4 L429.7,681.5 L431.4,682.5 L433.1,683.4 L434.9,684.4 L436.6,685.5 L438.3,686.7 L440.0,688.2 L441.7,689.9 L443.5,692.0 L445.2,694.3 L446.9,696.8 L448.6,699.5 L450.4,702.3 L452.1,705.2 L453.8,708.2 L455.5,711.2 L457.3,714.4 L459.3,718.0 L461.3,721.8 L463.3,725.6 L465.1,729.3 L466.8,732.6 L468.2,735.4 L469.3,737.4" fill="none" stroke="#3a50e0" stroke-width="1.6"/>
<path d="M83.5,648.6 L83.9,649.2 L84.4,650.1 L85.0,651.1 L85.7,652.3 L86.5,653.5 L87.3,654.7 L88.2,655.9 L89.0,657.0 L89.9,657.9 L90.8,658.8 L91.7,659.7 L92.6,660.6 L93.7,661.5 L94.8,662.5 L96.0,663.6 L97.3,664.8 L98.7,666.2 L100.3,667.7 L102.0,669.3 L103.8,671.0 L105.6,672.7 L107.5,674.4 L109.3,676.1 L111.1,677.6 L112.8,679.1 L114.5,680.5 L116.2,681.9 L117.9,683.2 L119.7,684.6 L121.4,685.9 L123.1,687.3 L124.8,688.8 L126.5,690.4 L128.1,692.0 L129.6,693.7 L131.2,695.4 L132.8,697.1 L134.6,698.8 L136.5,700.3 L138.6,701.7 L141.0,702.9 L143.6,704.0 L146.4,705.1 L149.3,706.0 L152.2,706.9 L155.1,707.8 L158.0,708.6 L160.7,709.5 L163.2,710.3 L165.8,711.1 L168.3,711.8 L170.8,712.6 L173.2,713.2 L175.6,713.9 L177.8,714.5 L179.9,715.1 L181.9,715.6 L183.8,716.1 L185.5,716.5 L187.2,716.9 L188.8,717.3 L190.4,717.7 L192.0,718.0 L193.7,718.4 L195.5,718.8 L197.2,719.2 L198.9,719.6 L200.6,720.0 L202.3,720.4 L204.1,720.7 L205.8,721.0 L207.5,721.2 L209.2,721.4 L211.0,721.5 L212.7,721.6 L214.4,721.7 L216.1,721.7 L217.8,721.8 L219.6,721.8 L221.3,721.8 L223.0,721.8 L224.7,721.8 L226.5,721.8 L228.2,721.8 L229.9,721.7 L231.6,721.6 L233.3,721.5 L235.1,721.2 L236.8,721.0 L238.6,720.7 L240.4,720.5 L242.1,720.1 L243.9,719.7 L245.6,719.1 L247.3,718.3 L248.8,717.3 L250.4,716.1 L251.8,714.7 L253.2,713.2 L254.5,711.5 L255.9,709.7 L257.2,707.6 L258.5,705.3 L259.9,702.8 L261.2,699.9 L262.6,696.7 L264.0,693.2 L265.4,689.6 L266.8,685.8 L268.1,682.1 L269.5,678.4 L270.9,674.8 L272.3,671.4 L273.6,667.8 L275.0,664.3 L276.4,660.7 L277.8,657.3 L279.2,654.0 L280.5,650.9 L281.9,648.0 L283.3,645.4 L284.7,643.0 L286.0,640.7 L287.4,638.6 L288.8,636.6 L290.2,634.7 L291.6,632.9 L292.9,631.3 L294.3,629.7 L295.8,628.2 L297.2,626.8 L298.6,625.5 L300.0,624.4 L301.4,623.4 L302.7,622.5 L304.0,621.8 L305.1,621.2 L306.2,620.7 L307.1,620.3 L308.1,620.0 L309.0,619.9 L310.0,620.0 L311.1,620.2 L312.2,620.7 L313.5,621.3 L314.8,622.1 L316.2,623.1 L317.6,624.3 L319.0,625.6 L320.4,627.0 L321.8,628.5 L323.2,630.2 L324.6,631.9 L326.0,633.8 L327.4,635.8 L328.8,637.9 L330.1,640.1 L331.5,642.4 L332.9,644.6 L334.3,646.9 L335.7,649.3 L337.1,651.8 L338.5,654.4 L340.0,657.0 L341.4,659.5 L342.7,662.0 L344.0,664.4 L345.3,666.5 L346.5,668.4 L347.6,670.3 L348.6,672.0 L349.6,673.6 L350.6,675.1 L351.6,676.5 L352.5,677.7 L353.6,678.8 L354.6,679.7 L355.6,680.4 L356.7,681.1 L357.7,681.6 L358.7,681.9 L359.8,682.1 L360.8,682.2 L361.8,682.1 L362.9,681.9 L363.9,681.5 L364.9,680.9 L366.0,680.2 L367.0,679.3 L368.0,678.4 L369.1,677.2 L370.1,676.0 L371.1,674.5 L372.2,672.8 L373.2,670.9 L374.2,668.9 L375.3,666.8 L376.3,664.8 L377.3,662.8 L378.4,660.9 L379.4,659.1 L380.5,657.3 L381.6,655.6 L382.7,653.9 L383.7,652.2 L384.8,650.5 L385.7,648.7 L386.6,646.9 L387.4,645.0 L388.1,643.1 L388.8,641.1 L389.4,639.1 L390.0,637.0 L390.6,635.1 L391.3,633.1 L392.1,631.3 L393.1,629.4 L394.1,627.5 L395.2,625.6 L396.3,623.8 L397.4,622.0 L398.5,620.4 L399.5,619.0 L400.4,617.9 L401.2,617.0 L401.9,616.3 L402.6,615.7 L403.2,615.4 L403.8,615.2 L404.4,615.0 L405.1,615.0 L405.9,615.1 L406.8,615.1 L407.7,615.3 L408.7,615.5 L409.7,615.8 L410.8,616.3 L411.9,616.9 L413.0,617.8 L414.2,619.0 L415.4,620.4 L416.8,622.0 L418.2,623.8 L419.7,625.9 L421.2,628.1 L422.6,630.5 L423.9,633.0 L425.2,635.7 L426.4,638.6 L427.5,641.7 L428.5,645.0 L429.5,648.5 L430.5,652.1 L431.5,655.8 L432.5,659.7 L433.5,663.7 L434.5,667.8 L435.5,672.2 L436.6,676.8 L437.6,681.5 L438.6,686.2 L439.7,690.9 L440.7,695.5 L441.7,700.0 L442.8,704.4 L443.8,708.8 L444.8,713.3 L445.9,717.6 L446.9,721.9 L447.9,726.0 L449.0,729.9 L450.0,733.5 L451.0,736.9 L452.0,740.1 L453.0,743.0 L454.0,745.8 L455.0,748.5 L456.0,751.0 L457.1,753.5 L458.3,755.9 L459.6,758.2 L461.1,760.5 L462.7,762.7 L464.3,764.8 L465.9,766.7 L467.3,768.4 L468.4,769.8 L469.3,770.9" fill="none" stroke="#e84a5a" stroke-width="1.6"/>
<line x1="163.0" y1="607.5" x2="163.0" y2="781" stroke="#1a20e8" stroke-width="2" stroke-dasharray="5,3"/>
<line x1="353.6" y1="607.5" x2="353.6" y2="781" stroke="#70a838" stroke-width="2" stroke-dasharray="5,3"/>
<line x1="385.5" y1="607.5" x2="385.5" y2="781" stroke="#e88828" stroke-width="2" stroke-dasharray="5,3"/>
<line x1="83.5" y1="781" x2="83.5" y2="777" stroke="#333"/><line x1="83.5" y1="607.5" x2="83.5" y2="611.5" stroke="#333"/>
<text x="83.5" y="799" text-anchor="middle" font-family="Liberation Sans, sans-serif" font-size="15" fill="#333">460</text>
<line x1="138.6" y1="781" x2="138.6" y2="777" stroke="#333"/><line x1="138.6" y1="607.5" x2="138.6" y2="611.5" stroke="#333"/>
<text x="138.6" y="799" text-anchor="middle" font-family="Liberation Sans, sans-serif" font-size="15" fill="#333">480</text>
<line x1="193.7" y1="781" x2="193.7" y2="777" stroke="#333"/><line x1="193.7" y1="607.5" x2="193.7" y2="611.5" stroke="#333"/>
<text x="193.7" y="799" text-anchor="middle" font-family="Liberation Sans, sans-serif" font-size="15" fill="#333">500</text>
<line x1="248.8" y1="781" x2="248.8" y2="777" stroke="#333"/><line x1="248.8" y1="607.5" x2="248.8" y2="611.5" stroke="#333"/>
<text x="248.8" y="799" text-anchor="middle" font-family="Liberation Sans, sans-serif" font-size="15" fill="#333">520</text>
<line x1="304.0" y1="781" x2="304.0" y2="777" stroke="#333"/><line x1="304.0" y1="607.5" x2="304.0" y2="611.5" stroke="#333"/>
<text x="304.0" y="799" text-anchor="middle" font-family="Liberation Sans, sans-serif" font-size="15" fill="#333">540</text>
<line x1="359.1" y1="781" x2="359.1" y2="777" stroke="#333"/><line x1="359.1" y1="607.5" x2="359.1" y2="611.5" stroke="#333"/>
<text x="359.1" y="799" text-anchor="middle" font-family="Liberation Sans, sans-serif" font-size="15" fill="#333">560</text>
<line x1="414.2" y1="781" x2="414.2" y2="777" stroke="#333"/><line x1="414.2" y1="607.5" x2="414.2" y2="611.5" stroke="#333"/>
<text x="414.2" y="799" text-anchor="middle" font-family="Liberation Sans, sans-serif" font-size="15" fill="#333">580</text>
<line x1="469.3" y1="781" x2="469.3" y2="777" stroke="#333"/><line x1="469.3" y1="607.5" x2="469.3" y2="611.5" stroke="#333"/>
<text x="469.3" y="799" text-anchor="middle" font-family="Liberation Sans, sans-serif" font-size="15" fill="#333">600</text>
<line x1="83.5" y1="781.0" x2="87.5" y2="781.0" stroke="#3c8ccc"/>
<text x="80" y="786.3" text-anchor="end" font-family="Liberation Sans, sans-serif" font-size="15" fill="#3c8ccc">0</text>
<line x1="83.5" y1="725.1" x2="87.5" y2="725.1" stroke="#3c8ccc"/>
<text x="80" y="730.4" text-anchor="end" font-family="Liberation Sans, sans-serif" font-size="15" fill="#3c8ccc">100</text>
<line x1="83.5" y1="669.3" x2="87.5" y2="669.3" stroke="#3c8ccc"/>
<text x="80" y="674.6" text-anchor="end" font-family="Liberation Sans, sans-serif" font-size="15" fill="#3c8ccc">200</text>
<line x1="83.5" y1="613.4" x2="87.5" y2="613.4" stroke="#3c8ccc"/>
<text x="80" y="618.7" text-anchor="end" font-family="Liberation Sans, sans-serif" font-size="15" fill="#3c8ccc">300</text>
<line x1="465.2" y1="781.0" x2="469.2" y2="781.0" stroke="#e07a30"/>
<text x="472" y="786.3" font-family="Liberation Sans, sans-serif" font-size="15" fill="#e07a30">0</text>
<line x1="465.2" y1="747.8" x2="469.2" y2="747.8" stroke="#e07a30"/>
<text x="472" y="753.1" font-family="Liberation Sans, sans-serif" font-size="15" fill="#e07a30">0.2</text>
<line x1="465.2" y1="714.6" x2="469.2" y2="714.6" stroke="#e07a30"/>
<text x="472" y="719.9" font-family="Liberation Sans, sans-serif" font-size="15" fill="#e07a30">0.4</text>
<line x1="465.2" y1="681.4" x2="469.2" y2="681.4" stroke="#e07a30"/>
<text x="472" y="686.7" font-family="Liberation Sans, sans-serif" font-size="15" fill="#e07a30">0.6</text>
<line x1="465.2" y1="648.2" x2="469.2" y2="648.2" stroke="#e07a30"/>
<text x="472" y="653.5" font-family="Liberation Sans, sans-serif" font-size="15" fill="#e07a30">0.8</text>
<line x1="465.2" y1="615.0" x2="469.2" y2="615.0" stroke="#e07a30"/>
<text x="472" y="620.3" font-family="Liberation Sans, sans-serif" font-size="15" fill="#e07a30">1</text>
<text transform="translate(50,694) rotate(-90)" text-anchor="middle" font-family="Liberation Sans, sans-serif" font-size="15.5" fill="#3c8ccc">Absorption (cm<tspan font-size="10" dy="-5">-1</tspan><tspan dy="5">)</tspan></text>
<text transform="translate(509.5,694.4) rotate(-90)" text-anchor="middle" font-family="Liberation Sans, sans-serif" font-size="15.5" fill="#e07a30" textLength="139" lengthAdjust="spacingAndGlyphs">Norm. Intensity (a.u.)</text>
<text x="220" y="816.8" font-family="Liberation Sans, sans-serif" font-size="15.5" fill="#333" textLength="113" lengthAdjust="spacingAndGlyphs" >Wavelength (nm)</text>
<text x="150.5" y="604.5" font-family="Liberation Sans, sans-serif" font-size="15" fill="#2020e0" textLength="24.2" lengthAdjust="spacingAndGlyphs" >488</text>
<text x="341.5" y="604.5" font-family="Liberation Sans, sans-serif" font-size="15" fill="#78a840" textLength="24.5" lengthAdjust="spacingAndGlyphs" >558</text>
<text x="374.5" y="604.5" font-family="Liberation Sans, sans-serif" font-size="15" fill="#e88830" textLength="24.5" lengthAdjust="spacingAndGlyphs" >570</text>
<line x1="93" y1="832" x2="122" y2="832" stroke="#1a9040" stroke-width="2" stroke-dasharray="5,3"/>
<line x1="93" y1="851" x2="122" y2="851" stroke="#12983c" stroke-width="2"/>
<text x="124.4" y="838.8" font-family="Liberation Sans, sans-serif" font-size="15.5" fill="#22a24a" textLength="64.6" lengthAdjust="spacingAndGlyphs" >Excitation</text>
<text x="124.4" y="858.6" font-family="Liberation Sans, sans-serif" font-size="15.5" fill="#22a24a" textLength="60" lengthAdjust="spacingAndGlyphs" >Emission</text>
<line x1="220" y1="831" x2="249" y2="831" stroke="#e84a5a" stroke-width="2"/>
<line x1="220" y1="851" x2="249" y2="851" stroke="#1a20e0" stroke-width="2"/>
<text x="250" y="838.5" font-family="Liberation Sans, sans-serif" font-size="15.5" fill="#e84a5a">HbO<tspan font-size="11">2</tspan></text>
<text x="250" y="858.5" font-family="Liberation Sans, sans-serif" font-size="15.5" fill="#2a30e0" textLength="30" lengthAdjust="spacingAndGlyphs" >HbR</text>
<rect x="308" y="832" width="40" height="20" fill="#c8d2ec"/>
<text x="351" y="848.3" font-family="Liberation Sans, sans-serif" font-size="15.5" fill="#a8b8dc" textLength="80" lengthAdjust="spacingAndGlyphs" >ET 525/50m</text>
<text x="563" y="24" font-family="Liberation Sans, sans-serif" font-weight="bold" font-size="17" fill="#000">C</text>
<rect x="613.3" y="259" width="70" height="60" rx="1" fill="#dcdce8" stroke="#b8b8cc" stroke-width="0.8"/>
<rect x="611" y="314" width="74" height="5" fill="#c8c8d8"/>
<line x1="614" y1="265.0" x2="621" y2="266.5" stroke="#b0b0c4" stroke-width="0.9"/><line x1="675" y1="265.0" x2="682" y2="266.5" stroke="#b0b0c4" stroke-width="0.9"/>
<line x1="614" y1="270.5" x2="621" y2="272.0" stroke="#b0b0c4" stroke-width="0.9"/><line x1="675" y1="270.5" x2="682" y2="272.0" stroke="#b0b0c4" stroke-width="0.9"/>
<line x1="614" y1="276.0" x2="621" y2="277.5" stroke="#b0b0c4" stroke-width="0.9"/><line x1="675" y1="276.0" x2="682" y2="277.5" stroke="#b0b0c4" stroke-width="0.9"/>
<line x1="614" y1="281.5" x2="621" y2="283.0" stroke="#b0b0c4" stroke-width="0.9"/><line x1="675" y1="281.5" x2="682" y2="283.0" stroke="#b0b0c4" stroke-width="0.9"/>
<line x1="614" y1="287.0" x2="621" y2="288.5" stroke="#b0b0c4" stroke-width="0.9"/><line x1="675" y1="287.0" x2="682" y2="288.5" stroke="#b0b0c4" stroke-width="0.9"/>
<line x1="614" y1="292.5" x2="621" y2="294.0" stroke="#b0b0c4" stroke-width="0.9"/><line x1="675" y1="292.5" x2="682" y2="294.0" stroke="#b0b0c4" stroke-width="0.9"/>
<line x1="614" y1="298.0" x2="621" y2="299.5" stroke="#b0b0c4" stroke-width="0.9"/><line x1="675" y1="298.0" x2="682" y2="299.5" stroke="#b0b0c4" stroke-width="0.9"/>
<line x1="614" y1="303.5" x2="621" y2="305.0" stroke="#b0b0c4" stroke-width="0.9"/><line x1="675" y1="303.5" x2="682" y2="305.0" stroke="#b0b0c4" stroke-width="0.9"/>
<line x1="614" y1="309.0" x2="621" y2="310.5" stroke="#b0b0c4" stroke-width="0.9"/><line x1="675" y1="309.0" x2="682" y2="310.5" stroke="#b0b0c4" stroke-width="0.9"/>
<rect x="626.7" y="160" width="44.3" height="100" fill="#cce6ea" fill-opacity="0.75" stroke="#a8ccd4" stroke-width="0.8"/>
<rect x="634.4" y="190" width="30" height="125" fill="#d8eef0" fill-opacity="0.6" stroke="#b8d8dc" stroke-width="0.6"/>
<path d="M600.5,145 L606,128 L622,106 L640.8,91 L684,91 L710,92.5 L732.5,107.8 L732.5,125 L710,130 L688,138 L685,145 L672.8,163 L671,200 L627,200 L627,166 L606,163 L600,157.8 Z" fill="#c4e2e8" fill-opacity="0.75" stroke="#a0c4cc" stroke-width="0.8"/>
<path d="M754,11.4 C750,17 748,21 746.5,23 C742,32 738,40 731,45.7 C722,53 714,58 704.6,61 C694,64 682,67 674,72 C666,77 660,84 655,91 L678,95 C680,92 683,89 685.6,87.5 C694,82 702,79 712,76 C728,71 742,67 750,61 C762,53 770,48 773,42 C776,35 777,30 777,24.7 Z" fill="url(#ribbon)"/>
<rect x="-13" y="-8.5" width="26" height="17" rx="4" fill="#3e3e3e" transform="translate(623,107) rotate(-38)"/>
<rect x="-13" y="-8.5" width="26" height="17" rx="4" fill="#3e3e3e" transform="translate(608,130) rotate(-38)"/>
<ellipse cx="0" cy="0" rx="10" ry="5.5" fill="#e6e6e6" stroke="#b0b0b0" stroke-width="0.7" transform="translate(614,118) rotate(-38)"/>
<polygon points="629.7,95.3 642.2,99.4 620,155 608.9,152.2" fill="#5c5a44"/>
<circle cx="632.5" cy="105" r="0.9" fill="#e8e040"/>
<circle cx="628" cy="114" r="0.9" fill="#e8e040"/>
<circle cx="617" cy="131" r="0.9" fill="#e8e040"/>
<circle cx="613" cy="139" r="0.9" fill="#e8e040"/>
<polygon points="640,93 686,107 661,158 614,157" fill="#e0a262" stroke="#d8e448" stroke-width="3.4" stroke-opacity="0.9"/>
<polygon points="645,102 677,112 657,149 624,148" fill="#dc9a5a"/>
<rect x="684" y="92.5" width="26" height="45" fill="#c0dce4" fill-opacity="0.7" stroke="#a8c4cc" stroke-width="0.6"/>
<rect x="710" y="106.4" width="22.5" height="19.4" fill="#d8d8f0" fill-opacity="0.85" stroke="#b0b0d0" stroke-width="0.6"/>
<g stroke="#888" stroke-width="0.8"><line x1="689.5" y1="96.0" x2="695" y2="96.0"/><line x1="689.5" y1="98.2" x2="695" y2="98.2"/><line x1="689.5" y1="100.4" x2="695" y2="100.4"/><line x1="689.5" y1="102.6" x2="695" y2="102.6"/><line x1="689.5" y1="104.8" x2="695" y2="104.8"/><line x1="689.5" y1="107.0" x2="695" y2="107.0"/></g>
<line x1="728" y1="117" x2="752" y2="107" stroke="#b06038" stroke-width="1"/>
<line x1="712" y1="116.5" x2="730" y2="116.5" stroke="#6a6aa0" stroke-width="0.6"/>
<rect x="663" y="117.5" width="18" height="16.7" rx="4" fill="#5a4aa8"/>
<ellipse cx="666" cy="125.8" rx="4" ry="7" fill="#7a50c8" stroke="#a070e0" stroke-width="1"/>
<circle cx="666" cy="125.8" r="2.5" fill="#40d060"/>
<path d="M666,126 L652,127.5 C648,128 649.5,130 649.5,134 L649.5,166" fill="none" stroke="#3cf05c" stroke-width="8.5" opacity="0.88"/>
<rect x="631.5" y="165.5" width="35.2" height="24.5" fill="#4a7cb0"/>
<rect x="631.5" y="165.5" width="12" height="24.5" fill="#3a6494"/>
<ellipse cx="649" cy="189.5" rx="17.6" ry="3.2" fill="#d0e6f0" stroke="#8aaccc" stroke-width="0.6"/>
<polygon points="644,190 654,190 649,207 654,225 644,225 649,207" fill="#3cf05c" opacity="0.9"/>
<rect x="633.8" y="226.7" width="30.2" height="17.7" rx="1.5" fill="#5a6cd8"/>
<rect x="637.3" y="244.4" width="23.1" height="71" fill="#8c9cf0"/>
<rect x="645" y="244.4" width="8" height="71" fill="#a8b8f8" opacity="0.6"/>
<polygon points="644.4,315.5 653.3,315.5 649,324.4" fill="#30f050"/>
<path d="M757,145 C725,150 700,170 692,205 C686,235 686,255 670,266 C668,280 669,300 667,314 L655,316" fill="none" stroke="#1a1a5a" stroke-width="1.6"/>
<rect x="710" y="185.5" width="103" height="102.5" fill="#e4eef0" stroke="#d8a8dc" stroke-width="1.6"/>
<rect x="711" y="187" width="15.7" height="74" fill="#c8e0e4"/>
<line x1="711" y1="261" x2="812" y2="261" stroke="#b8ccd4" stroke-width="1"/><line x1="711" y1="271" x2="812" y2="271" stroke="#c8d8e0" stroke-width="1"/>
<rect x="726.7" y="186.5" width="65.5" height="67" fill="#a4b4f0"/>
<rect x="726.7" y="186.5" width="10" height="67" fill="#9aaae6"/>
<ellipse cx="759.5" cy="252" rx="32.5" ry="5" fill="#3a3ad8"/>
<ellipse cx="760" cy="252.5" rx="18" ry="3.4" fill="#e8eaf4"/>
<polygon points="748.9,253.3 773.3,253.3 761,283" fill="#22f040"/>
<path d="M800,186.7 C806,205 812,235 808.9,250 C806,256 798,259 792,261" fill="none" stroke="#40489a" stroke-width="3.4"/>
<rect x="787.8" y="257.8" width="6.6" height="6.6" fill="#a07040" transform="rotate(-30,791,261)"/>
<text x="780" y="281.2" font-family="Liberation Sans, sans-serif" font-size="15" fill="#111" textLength="18" lengthAdjust="spacingAndGlyphs" >UT</text>
<path d="M689,319 C703,318 716,312 724,303 L719,298 L737,296 L735,312 L730,307 C720,320 705,326 689,325 Z" fill="url(#pinkArrow)"/>
<text x="617" y="77" font-family="Liberation Sans, sans-serif" font-size="15" fill="#111" textLength="43.5" lengthAdjust="spacingAndGlyphs" >MEMS</text>
<text x="711" y="104.8" font-family="Liberation Sans, sans-serif" font-size="15" fill="#111" textLength="19.5" lengthAdjust="spacingAndGlyphs" >FC</text>
<text x="754" y="110.8" font-family="Liberation Sans, sans-serif" font-size="15" fill="#111" textLength="29.5" lengthAdjust="spacingAndGlyphs" >SMF</text>
<text x="740" y="163.8" font-family="Liberation Sans, sans-serif" font-size="15" fill="#111" textLength="29.5" lengthAdjust="spacingAndGlyphs" >Wire</text>
<text x="590" y="179" font-family="Liberation Sans, sans-serif" font-size="15" fill="#111" textLength="33.5" lengthAdjust="spacingAndGlyphs" >Scan</text>
<text x="592.5" y="196" font-family="Liberation Sans, sans-serif" font-size="15" fill="#111" textLength="27" lengthAdjust="spacingAndGlyphs" >lens</text>
<text x="601" y="241.2" font-family="Liberation Sans, sans-serif" font-size="15" fill="#111" textLength="22.3" lengthAdjust="spacingAndGlyphs" >Obj</text>
<path d="M903.0,92.0 L905.0,91.0 L908.0,89.5 L911.4,87.8 L914.8,86.0 L918.3,84.0 L922.0,81.7 L925.8,79.4 L929.6,77.2 L933.1,75.2 L936.5,73.2 L940.2,71.4 L944.4,69.8 L949.4,68.5 L955.1,67.3 L961.0,66.3 L966.7,65.4 L972.3,64.7 L977.8,64.1 L983.4,63.4 L988.9,62.4 L994.6,60.9 L1000.4,59.2 L1006.0,57.2 L1011.0,55.0 L1015.4,52.6 L1019.4,50.0 L1023.0,47.3 L1026.0,44.6 L1028.5,41.9 L1030.4,39.2 L1031.9,36.6 L1033.3,34.3 L1034.6,32.2 L1035.6,30.3 L1036.4,28.7 L1037.0,27.6 L1051.0,37.2 L1050.1,39.3 L1048.7,42.4 L1047.0,45.8 L1045.0,49.0 L1042.5,52.1 L1039.7,55.2 L1036.6,58.2 L1033.3,61.0 L1030.0,63.5 L1026.6,65.9 L1022.8,68.0 L1018.5,69.8 L1013.5,71.3 L1007.9,72.4 L1002.0,73.4 L996.3,74.3 L990.6,75.1 L984.7,75.8 L979.1,76.5 L974.0,77.2 L969.7,77.9 L966.0,78.5 L962.6,79.3 L959.0,80.2 L955.3,81.4 L951.7,82.7 L948.1,84.3 L944.4,86.0 L940.5,88.1 L936.5,90.6 L932.7,93.0 L929.6,95.0 L927.6,96.4 L926.3,97.5 L925.2,98.4 L923.7,99.4 L921.5,100.6 L919.0,102.0 L916.6,103.2 L915.0,104.0 Z" fill="url(#ribbon2)" stroke="#b07838" stroke-width="0.6"/>
<path d="M1051.0,37.2 L1050.1,39.3 L1048.7,42.4 L1047.0,45.8 L1045.0,49.0 L1042.5,52.1 L1039.7,55.2 L1036.6,58.2 L1033.3,61.0 L1030.0,63.5 L1026.6,65.9 L1022.8,68.0 L1018.5,69.8 L1013.5,71.3 L1007.9,72.4 L1002.0,73.4 L996.3,74.3 L990.6,75.1 L984.7,75.8 L979.1,76.5 L974.0,77.2 L969.7,77.9 L966.0,78.5 L962.6,79.3 L959.0,80.2 L955.3,81.4 L951.7,82.7 L948.1,84.3 L944.4,86.0 L940.5,88.1 L936.5,90.6 L932.7,93.0 L929.6,95.0 L927.6,96.4 L926.3,97.5 L925.2,98.4 L923.7,99.4 L921.5,100.6 L919.0,102.0 L916.6,103.2 L915.0,104.0" fill="none" stroke="#9a6428" stroke-width="1.1"/>
<path d="M1016,143 C975,148 945,160 932,176 C924,190 923,210 921,232" fill="none" stroke="#3a3a3a" stroke-width="1.1"/>
<path d="M864,308 L864,318 C864,324 935,324 935,318 L935,308 C935,303 864,303 864,308 Z" fill="url(#darkCol)"/>
<path d="M868.3,256 L868.3,309 C868.3,314 931,314 931,309 L931,256 C931,249 868.3,249 868.3,256 Z" fill="url(#darkCol)"/>
<ellipse cx="899.6" cy="255" rx="31.3" ry="5.5" fill="#4a4644"/>
<ellipse cx="899.6" cy="256" rx="25" ry="4" fill="#262220"/>
<rect x="876.8" y="160" width="45" height="85" fill="url(#darkCol)"/>
<rect x="879" y="244" width="41.6" height="14" fill="#34302e"/>
<line x1="885" y1="246" x2="885" y2="258" stroke="#222" stroke-width="0.8"/>
<rect x="930" y="261" width="8" height="9.6" rx="2.5" fill="#3a3634"/>
<polygon points="861.5,148 876.5,166 878,172 922.6,172 922.6,143 971.5,135.6 971.5,95.6 934.4,92.6 917,87 895,87.5 861.5,120.3" fill="#3e3a38"/>
<polygon points="934.4,92.6 971.5,95.6 971.5,102 950,104 940,99" fill="#55514e"/>
<polygon points="922.6,143 971.5,135.6 971.5,100 950,104 930,125" fill="#3a3634"/>
<rect x="953" y="92" width="7" height="5" rx="1" fill="#1e1e1e"/>
<polygon points="914.6,112.3 930,103 922,125 885,160 878,155" fill="#a87830"/>
<polygon points="861.5,148 865,144.6 889.2,165.3 886.9,171" fill="#6e6c6a"/>
<polygon points="860.4,137.6 865,129.6 886.9,145.7 884.6,155" fill="#e8b262"/>
<polygon points="903,90.4 912.2,86.9 929.5,103 921.5,110" fill="#f0bc6a"/>
<path d="M895,87.5 Q897,86 899,88 L916.9,111 Q918,113.4 916,115 L890,143.6 Q888,145.6 886,144 L862.5,122 Q860.5,120.3 862.5,118 Z" fill="#7a7a7a"/>
<circle cx="875.4" cy="102.5" r="6.2" fill="url(#screw)"/><line x1="871" y1="107" x2="880" y2="98" stroke="#777" stroke-width="0.9"/>
<circle cx="897.3" cy="123.8" r="5.8" fill="url(#screw)"/><line x1="893" y1="128" x2="901.5" y2="119.5" stroke="#777" stroke-width="0.9"/>
<polygon points="900,128 906,134 903,138 897,132" fill="#3a3a3a"/>
<rect x="973" y="107.4" width="13" height="23.6" rx="2" fill="#3a3430"/>
<rect x="986" y="110.4" width="13.6" height="14.6" rx="2" fill="#8aa2bc"/>
<line x1="999.6" y1="117.8" x2="1012" y2="116.2" stroke="#c07848" stroke-width="0.8"/>
<line x1="962" y1="314.2" x2="1003.5" y2="314.2" stroke="#111" stroke-width="1.8"/>
<text x="965" y="310.5" font-family="Liberation Sans, sans-serif" font-size="13.5" fill="#111" textLength="37.5" lengthAdjust="spacingAndGlyphs" >5 mm</text>
<text x="564" y="352.5" font-family="Liberation Sans, sans-serif" font-weight="bold" font-size="17" fill="#000">D</text>
<rect x="580.5" y="360" width="215.1" height="215.4" fill="url(#photoBg)"/>
<path d="M606.4,469.0 L606.5,468.3 L606.8,467.6 L607.1,466.9 L607.5,466.1 L608.1,465.3 L608.6,464.5 L609.3,463.7 L610.0,463.0 L610.8,462.3 L611.7,461.5 L612.7,460.8 L613.8,460.0 L614.9,459.3 L616.0,458.7 L617.0,458.0 L618.0,457.5 L618.9,457.0 L619.7,456.7 L620.5,456.3 L621.3,456.1 L622.1,455.8 L623.0,455.6 L623.9,455.3 L625.0,455.0 L626.2,454.7 L627.5,454.4 L628.9,454.1 L630.3,453.8 L631.8,453.5 L633.3,453.2 L634.8,452.8 L636.4,452.4 L638.0,451.9 L639.8,451.4 L641.6,450.8 L643.4,450.2 L645.2,449.6 L646.9,449.0 L648.5,448.5 L650.0,448.0 L651.3,447.6 L652.5,447.3 L653.6,447.1 L654.6,446.8 L655.5,446.6 L656.5,446.3 L657.5,445.9 L658.6,445.5 L659.8,444.9 L661.0,444.2 L662.2,443.5 L663.4,442.7 L664.6,441.9 L665.8,441.2 L666.9,440.5 L668.0,440.0 L668.9,439.6 L669.5,439.3 L670.0,439.1 L670.5,438.9 L671.2,438.7 L672.0,438.7 L673.3,438.6 L675.0,438.6 L677.3,438.6 L680.0,438.5 L683.1,438.5 L686.4,438.5 L689.8,438.6 L693.3,438.8 L696.8,439.3 L700.0,440.0 L703.1,440.9 L706.3,442.1 L709.5,443.4 L712.7,444.9 L715.8,446.5 L719.0,448.2 L722.0,450.1 L725.0,452.0 L728.0,454.1 L731.0,456.5 L734.0,459.0 L736.9,461.6 L739.8,464.3 L742.4,466.9 L744.8,469.4 L747.0,471.8 L748.9,474.0 L750.5,476.2 L751.9,478.3 L753.1,480.4 L754.2,482.4 L755.2,484.4 L756.1,486.2 L757.0,488.0 L757.8,489.7 L758.4,491.3 L759.0,492.7 L759.4,494.2 L759.8,495.5 L760.2,496.9 L760.6,498.2 L761.0,499.5 L761.5,500.8 L762.0,502.1 L762.5,503.3 L763.0,504.5 L763.4,505.7 L763.8,506.8 L764.0,507.9 L764.0,509.0 L763.9,510.0 L763.8,511.0 L763.5,511.9 L763.1,512.8 L762.6,513.7 L761.9,514.5 L761.1,515.3 L760.0,516.0 L758.7,516.7 L757.1,517.2 L755.4,517.8 L753.5,518.2 L751.5,518.7 L749.4,519.1 L747.2,519.6 L745.0,520.0 L742.7,520.5 L740.4,520.9 L737.9,521.4 L735.3,521.9 L732.7,522.3 L730.1,522.6 L727.5,522.9 L725.0,523.0 L722.5,523.0 L720.0,522.9 L717.5,522.6 L714.9,522.3 L712.4,522.0 L709.9,521.6 L707.5,521.3 L705.0,521.0 L702.6,520.8 L700.1,520.5 L697.7,520.3 L695.2,520.1 L692.9,519.8 L690.5,519.6 L688.2,519.3 L686.0,519.0 L683.8,518.7 L681.6,518.3 L679.5,517.9 L677.4,517.5 L675.3,517.1 L673.4,516.8 L671.6,516.4 L670.0,516.0 L668.6,515.7 L667.3,515.4 L666.2,515.2 L665.2,515.0 L664.3,514.7 L663.4,514.4 L662.4,513.9 L661.4,513.3 L660.4,512.6 L659.5,511.8 L658.6,511.0 L657.7,510.0 L656.7,509.0 L655.7,507.8 L654.4,506.5 L653.0,505.0 L651.3,503.3 L649.4,501.3 L647.4,499.1 L645.2,496.8 L643.0,494.5 L640.7,492.3 L638.5,490.2 L636.4,488.4 L634.3,486.8 L632.2,485.2 L630.0,483.8 L627.8,482.5 L625.7,481.2 L623.7,480.1 L621.8,479.0 L620.0,478.0 L618.3,477.1 L616.7,476.3 L615.1,475.7 L613.6,475.1 L612.3,474.6 L611.0,474.1 L609.9,473.5 L609.0,473.0 L608.2,472.5 L607.6,472.0 L607.1,471.5 L606.8,471.1 L606.6,470.6 L606.4,470.1 L606.4,469.6 Z" fill="url(#mouseFur)"/>
<clipPath id="mclip"><path d="M606.4,469.0 L606.5,468.3 L606.8,467.6 L607.1,466.9 L607.5,466.1 L608.1,465.3 L608.6,464.5 L609.3,463.7 L610.0,463.0 L610.8,462.3 L611.7,461.5 L612.7,460.8 L613.8,460.0 L614.9,459.3 L616.0,458.7 L617.0,458.0 L618.0,457.5 L618.9,457.0 L619.7,456.7 L620.5,456.3 L621.3,456.1 L622.1,455.8 L623.0,455.6 L623.9,455.3 L625.0,455.0 L626.2,454.7 L627.5,454.4 L628.9,454.1 L630.3,453.8 L631.8,453.5 L633.3,453.2 L634.8,452.8 L636.4,452.4 L638.0,451.9 L639.8,451.4 L641.6,450.8 L643.4,450.2 L645.2,449.6 L646.9,449.0 L648.5,448.5 L650.0,448.0 L651.3,447.6 L652.5,447.3 L653.6,447.1 L654.6,446.8 L655.5,446.6 L656.5,446.3 L657.5,445.9 L658.6,445.5 L659.8,444.9 L661.0,444.2 L662.2,443.5 L663.4,442.7 L664.6,441.9 L665.8,441.2 L666.9,440.5 L668.0,440.0 L668.9,439.6 L669.5,439.3 L670.0,439.1 L670.5,438.9 L671.2,438.7 L672.0,438.7 L673.3,438.6 L675.0,438.6 L677.3,438.6 L680.0,438.5 L683.1,438.5 L686.4,438.5 L689.8,438.6 L693.3,438.8 L696.8,439.3 L700.0,440.0 L703.1,440.9 L706.3,442.1 L709.5,443.4 L712.7,444.9 L715.8,446.5 L719.0,448.2 L722.0,450.1 L725.0,452.0 L728.0,454.1 L731.0,456.5 L734.0,459.0 L736.9,461.6 L739.8,464.3 L742.4,466.9 L744.8,469.4 L747.0,471.8 L748.9,474.0 L750.5,476.2 L751.9,478.3 L753.1,480.4 L754.2,482.4 L755.2,484.4 L756.1,486.2 L757.0,488.0 L757.8,489.7 L758.4,491.3 L759.0,492.7 L759.4,494.2 L759.8,495.5 L760.2,496.9 L760.6,498.2 L761.0,499.5 L761.5,500.8 L762.0,502.1 L762.5,503.3 L763.0,504.5 L763.4,505.7 L763.8,506.8 L764.0,507.9 L764.0,509.0 L763.9,510.0 L763.8,511.0 L763.5,511.9 L763.1,512.8 L762.6,513.7 L761.9,514.5 L761.1,515.3 L760.0,516.0 L758.7,516.7 L757.1,517.2 L755.4,517.8 L753.5,518.2 L751.5,518.7 L749.4,519.1 L747.2,519.6 L745.0,520.0 L742.7,520.5 L740.4,520.9 L737.9,521.4 L735.3,521.9 L732.7,522.3 L730.1,522.6 L727.5,522.9 L725.0,523.0 L722.5,523.0 L720.0,522.9 L717.5,522.6 L714.9,522.3 L712.4,522.0 L709.9,521.6 L707.5,521.3 L705.0,521.0 L702.6,520.8 L700.1,520.5 L697.7,520.3 L695.2,520.1 L692.9,519.8 L690.5,519.6 L688.2,519.3 L686.0,519.0 L683.8,518.7 L681.6,518.3 L679.5,517.9 L677.4,517.5 L675.3,517.1 L673.4,516.8 L671.6,516.4 L670.0,516.0 L668.6,515.7 L667.3,515.4 L666.2,515.2 L665.2,515.0 L664.3,514.7 L663.4,514.4 L662.4,513.9 L661.4,513.3 L660.4,512.6 L659.5,511.8 L658.6,511.0 L657.7,510.0 L656.7,509.0 L655.7,507.8 L654.4,506.5 L653.0,505.0 L651.3,503.3 L649.4,501.3 L647.4,499.1 L645.2,496.8 L643.0,494.5 L640.7,492.3 L638.5,490.2 L636.4,488.4 L634.3,486.8 L632.2,485.2 L630.0,483.8 L627.8,482.5 L625.7,481.2 L623.7,480.1 L621.8,479.0 L620.0,478.0 L618.3,477.1 L616.7,476.3 L615.1,475.7 L613.6,475.1 L612.3,474.6 L611.0,474.1 L609.9,473.5 L609.0,473.0 L608.2,472.5 L607.6,472.0 L607.1,471.5 L606.8,471.1 L606.6,470.6 L606.4,470.1 L606.4,469.6 Z"/></clipPath><g clip-path="url(#mclip)"><line x1="680.1" y1="485.9" x2="682.3" y2="490.2" stroke="rgba(92,68,58,0.45)" stroke-width="0.8"/><line x1="682.2" y1="481.6" x2="683.9" y2="485.1" stroke="rgba(90,67,57,0.43)" stroke-width="0.8"/><line x1="638.6" y1="482.0" x2="640.4" y2="485.6" stroke="rgba(90,67,57,0.43)" stroke-width="0.8"/><line x1="732.9" y1="447.7" x2="734.3" y2="450.5" stroke="rgba(73,57,49,0.28)" stroke-width="0.8"/><line x1="624.1" y1="506.4" x2="625.9" y2="510.1" stroke="rgba(102,75,62,0.53)" stroke-width="0.8"/><line x1="616.5" y1="520.5" x2="618.7" y2="525.0" stroke="rgba(109,79,65,0.59)" stroke-width="0.8"/><line x1="711.4" y1="490.5" x2="712.6" y2="492.9" stroke="rgba(94,70,59,0.47)" stroke-width="0.8"/><line x1="612.3" y1="483.3" x2="613.4" y2="485.5" stroke="rgba(91,68,57,0.43)" stroke-width="0.8"/><line x1="639.5" y1="459.8" x2="640.5" y2="461.9" stroke="rgba(79,61,52,0.33)" stroke-width="0.8"/><line x1="681.9" y1="476.1" x2="684.0" y2="480.2" stroke="rgba(87,66,55,0.40)" stroke-width="0.8"/><line x1="690.5" y1="492.5" x2="692.1" y2="495.8" stroke="rgba(95,71,59,0.47)" stroke-width="0.8"/><line x1="712.7" y1="477.5" x2="714.0" y2="480.2" stroke="rgba(88,66,56,0.41)" stroke-width="0.8"/><line x1="764.6" y1="521.6" x2="766.7" y2="525.7" stroke="rgba(109,79,65,0.60)" stroke-width="0.8"/><line x1="719.7" y1="465.9" x2="721.0" y2="468.4" stroke="rgba(82,62,53,0.36)" stroke-width="0.8"/><line x1="654.8" y1="445.8" x2="656.8" y2="449.7" stroke="rgba(72,56,49,0.27)" stroke-width="0.8"/><line x1="672.1" y1="509.4" x2="673.5" y2="512.4" stroke="rgba(103,76,63,0.55)" stroke-width="0.8"/><line x1="758.5" y1="509.5" x2="759.5" y2="511.5" stroke="rgba(103,76,63,0.55)" stroke-width="0.8"/><line x1="642.5" y1="514.6" x2="644.1" y2="517.8" stroke="rgba(106,77,64,0.57)" stroke-width="0.8"/><line x1="762.0" y1="472.6" x2="763.0" y2="474.8" stroke="rgba(85,64,55,0.39)" stroke-width="0.8"/><line x1="707.6" y1="503.8" x2="708.9" y2="506.5" stroke="rgba(101,74,62,0.52)" stroke-width="0.8"/><line x1="623.5" y1="467.3" x2="625.7" y2="471.7" stroke="rgba(83,63,53,0.37)" stroke-width="0.8"/><line x1="727.5" y1="449.7" x2="728.8" y2="452.3" stroke="rgba(74,57,50,0.29)" stroke-width="0.8"/><line x1="625.7" y1="444.9" x2="627.7" y2="448.9" stroke="rgba(72,56,49,0.27)" stroke-width="0.8"/><line x1="637.5" y1="485.9" x2="639.1" y2="489.0" stroke="rgba(92,68,58,0.45)" stroke-width="0.8"/><line x1="639.6" y1="500.0" x2="640.7" y2="502.3" stroke="rgba(99,73,61,0.51)" stroke-width="0.8"/><line x1="709.8" y1="449.6" x2="711.3" y2="452.6" stroke="rgba(74,57,50,0.29)" stroke-width="0.8"/><line x1="643.0" y1="462.1" x2="645.2" y2="466.6" stroke="rgba(80,61,52,0.34)" stroke-width="0.8"/><line x1="734.5" y1="464.9" x2="736.6" y2="469.2" stroke="rgba(82,62,53,0.36)" stroke-width="0.8"/><line x1="642.7" y1="472.3" x2="644.7" y2="476.5" stroke="rgba(85,64,55,0.39)" stroke-width="0.8"/><line x1="709.5" y1="448.2" x2="711.7" y2="452.7" stroke="rgba(74,57,49,0.29)" stroke-width="0.8"/><line x1="643.1" y1="461.2" x2="645.0" y2="465.1" stroke="rgba(80,61,52,0.34)" stroke-width="0.8"/><line x1="661.0" y1="464.3" x2="662.1" y2="466.5" stroke="rgba(81,62,53,0.35)" stroke-width="0.8"/><line x1="624.0" y1="487.8" x2="625.3" y2="490.4" stroke="rgba(93,69,58,0.45)" stroke-width="0.8"/><line x1="703.2" y1="470.5" x2="704.8" y2="473.6" stroke="rgba(84,64,54,0.38)" stroke-width="0.8"/><line x1="758.7" y1="479.7" x2="760.4" y2="483.1" stroke="rgba(89,67,56,0.42)" stroke-width="0.8"/><line x1="744.3" y1="455.0" x2="745.5" y2="457.4" stroke="rgba(77,59,51,0.31)" stroke-width="0.8"/><line x1="750.8" y1="507.1" x2="752.1" y2="509.7" stroke="rgba(102,75,62,0.54)" stroke-width="0.8"/><line x1="639.4" y1="500.6" x2="641.6" y2="505.0" stroke="rgba(99,73,61,0.51)" stroke-width="0.8"/><line x1="640.5" y1="517.9" x2="642.6" y2="522.1" stroke="rgba(108,78,65,0.58)" stroke-width="0.8"/><line x1="703.5" y1="474.6" x2="704.7" y2="476.8" stroke="rgba(86,65,55,0.40)" stroke-width="0.8"/><line x1="616.0" y1="518.9" x2="617.3" y2="521.5" stroke="rgba(108,79,65,0.59)" stroke-width="0.8"/><line x1="719.2" y1="461.1" x2="721.2" y2="465.1" stroke="rgba(80,61,52,0.34)" stroke-width="0.8"/><line x1="702.5" y1="464.1" x2="703.7" y2="466.5" stroke="rgba(81,62,53,0.35)" stroke-width="0.8"/><line x1="721.7" y1="445.6" x2="722.9" y2="448.2" stroke="rgba(72,56,49,0.27)" stroke-width="0.8"/><line x1="696.7" y1="509.9" x2="698.5" y2="513.4" stroke="rgba(104,76,63,0.55)" stroke-width="0.8"/><line x1="653.4" y1="515.2" x2="654.7" y2="517.7" stroke="rgba(106,77,64,0.57)" stroke-width="0.8"/><line x1="612.6" y1="462.1" x2="614.1" y2="465.2" stroke="rgba(80,61,52,0.34)" stroke-width="0.8"/><line x1="619.4" y1="454.5" x2="620.8" y2="457.4" stroke="rgba(77,59,51,0.31)" stroke-width="0.8"/><line x1="698.7" y1="450.8" x2="700.1" y2="453.7" stroke="rgba(75,58,50,0.30)" stroke-width="0.8"/><line x1="748.1" y1="520.4" x2="749.9" y2="524.0" stroke="rgba(109,79,65,0.59)" stroke-width="0.8"/><line x1="717.1" y1="487.9" x2="718.3" y2="490.3" stroke="rgba(93,69,58,0.45)" stroke-width="0.8"/><line x1="615.4" y1="441.5" x2="617.6" y2="445.7" stroke="rgba(70,55,48,0.26)" stroke-width="0.8"/><line x1="718.7" y1="518.9" x2="719.7" y2="521.0" stroke="rgba(108,79,65,0.59)" stroke-width="0.8"/><line x1="708.6" y1="479.5" x2="710.5" y2="483.4" stroke="rgba(89,67,56,0.42)" stroke-width="0.8"/><line x1="659.4" y1="521.9" x2="660.5" y2="524.1" stroke="rgba(109,79,65,0.60)" stroke-width="0.8"/><line x1="694.6" y1="500.4" x2="696.8" y2="504.7" stroke="rgba(99,73,61,0.51)" stroke-width="0.8"/><line x1="724.2" y1="497.7" x2="726.2" y2="501.7" stroke="rgba(98,72,60,0.50)" stroke-width="0.8"/><line x1="751.8" y1="468.9" x2="753.7" y2="472.6" stroke="rgba(84,63,54,0.37)" stroke-width="0.8"/><line x1="749.6" y1="511.4" x2="751.2" y2="514.5" stroke="rgba(104,76,63,0.55)" stroke-width="0.8"/><line x1="732.5" y1="510.8" x2="734.2" y2="514.2" stroke="rgba(104,76,63,0.55)" stroke-width="0.8"/><line x1="706.9" y1="471.4" x2="708.6" y2="474.8" stroke="rgba(85,64,54,0.38)" stroke-width="0.8"/><line x1="704.4" y1="446.6" x2="706.2" y2="450.2" stroke="rgba(73,57,49,0.28)" stroke-width="0.8"/><line x1="764.0" y1="512.1" x2="765.9" y2="516.0" stroke="rgba(105,76,63,0.56)" stroke-width="0.8"/><line x1="670.2" y1="500.3" x2="671.9" y2="503.7" stroke="rgba(99,73,61,0.51)" stroke-width="0.8"/><line x1="678.3" y1="508.7" x2="679.4" y2="511.0" stroke="rgba(103,75,63,0.54)" stroke-width="0.8"/><line x1="726.3" y1="442.4" x2="728.0" y2="445.9" stroke="rgba(71,55,48,0.26)" stroke-width="0.8"/><line x1="684.5" y1="458.9" x2="686.4" y2="462.6" stroke="rgba(79,60,52,0.33)" stroke-width="0.8"/><line x1="687.1" y1="490.4" x2="689.2" y2="494.7" stroke="rgba(94,70,59,0.47)" stroke-width="0.8"/><line x1="649.7" y1="440.9" x2="651.0" y2="443.7" stroke="rgba(70,55,48,0.25)" stroke-width="0.8"/><line x1="715.1" y1="456.6" x2="716.3" y2="459.0" stroke="rgba(78,60,51,0.32)" stroke-width="0.8"/><line x1="750.4" y1="494.1" x2="751.9" y2="497.2" stroke="rgba(96,71,59,0.48)" stroke-width="0.8"/><line x1="748.2" y1="466.8" x2="750.1" y2="470.5" stroke="rgba(83,63,53,0.36)" stroke-width="0.8"/><line x1="640.8" y1="475.3" x2="642.8" y2="479.3" stroke="rgba(87,65,55,0.40)" stroke-width="0.8"/><line x1="751.7" y1="512.2" x2="753.2" y2="515.1" stroke="rgba(105,77,63,0.56)" stroke-width="0.8"/><line x1="700.4" y1="466.0" x2="701.6" y2="468.3" stroke="rgba(82,62,53,0.36)" stroke-width="0.8"/><line x1="687.0" y1="508.6" x2="689.0" y2="512.8" stroke="rgba(103,75,63,0.54)" stroke-width="0.8"/><line x1="720.2" y1="517.9" x2="721.6" y2="520.6" stroke="rgba(108,78,65,0.58)" stroke-width="0.8"/><line x1="636.2" y1="477.0" x2="637.6" y2="479.6" stroke="rgba(88,66,56,0.41)" stroke-width="0.8"/><line x1="643.2" y1="473.9" x2="645.0" y2="477.5" stroke="rgba(86,65,55,0.39)" stroke-width="0.8"/><line x1="686.6" y1="465.9" x2="688.6" y2="470.0" stroke="rgba(82,62,53,0.36)" stroke-width="0.8"/><line x1="762.2" y1="477.1" x2="763.3" y2="479.3" stroke="rgba(88,66,56,0.41)" stroke-width="0.8"/><line x1="614.9" y1="511.6" x2="615.9" y2="513.7" stroke="rgba(104,76,63,0.56)" stroke-width="0.8"/><line x1="719.8" y1="486.8" x2="721.2" y2="489.6" stroke="rgba(92,69,58,0.45)" stroke-width="0.8"/><line x1="732.7" y1="441.6" x2="733.9" y2="443.9" stroke="rgba(70,55,48,0.26)" stroke-width="0.8"/><line x1="680.5" y1="442.0" x2="682.5" y2="446.1" stroke="rgba(70,55,48,0.26)" stroke-width="0.8"/><line x1="646.8" y1="451.6" x2="647.9" y2="453.7" stroke="rgba(75,58,50,0.30)" stroke-width="0.8"/><line x1="707.5" y1="476.6" x2="709.3" y2="480.2" stroke="rgba(87,66,56,0.41)" stroke-width="0.8"/><line x1="711.5" y1="506.2" x2="713.7" y2="510.6" stroke="rgba(102,75,62,0.53)" stroke-width="0.8"/><line x1="716.1" y1="456.3" x2="717.7" y2="459.5" stroke="rgba(77,59,51,0.32)" stroke-width="0.8"/><line x1="637.7" y1="440.9" x2="639.3" y2="444.1" stroke="rgba(70,55,48,0.25)" stroke-width="0.8"/><line x1="720.7" y1="454.7" x2="722.0" y2="457.4" stroke="rgba(77,59,51,0.31)" stroke-width="0.8"/><line x1="663.6" y1="497.2" x2="665.2" y2="500.5" stroke="rgba(97,72,60,0.49)" stroke-width="0.8"/><line x1="705.2" y1="502.0" x2="706.7" y2="505.0" stroke="rgba(100,73,61,0.51)" stroke-width="0.8"/><line x1="732.7" y1="514.3" x2="733.9" y2="516.5" stroke="rgba(106,77,64,0.57)" stroke-width="0.8"/><line x1="754.6" y1="499.2" x2="755.7" y2="501.6" stroke="rgba(98,73,61,0.50)" stroke-width="0.8"/><line x1="680.3" y1="491.3" x2="682.4" y2="495.6" stroke="rgba(95,70,59,0.47)" stroke-width="0.8"/><line x1="668.4" y1="486.6" x2="670.5" y2="490.8" stroke="rgba(92,69,58,0.45)" stroke-width="0.8"/><line x1="733.5" y1="517.4" x2="735.1" y2="520.6" stroke="rgba(107,78,64,0.58)" stroke-width="0.8"/><line x1="711.0" y1="456.8" x2="712.9" y2="460.6" stroke="rgba(78,60,51,0.32)" stroke-width="0.8"/><line x1="736.8" y1="492.6" x2="738.7" y2="496.4" stroke="rgba(95,71,59,0.47)" stroke-width="0.8"/><line x1="643.1" y1="513.8" x2="645.3" y2="518.2" stroke="rgba(105,77,64,0.56)" stroke-width="0.8"/><line x1="761.5" y1="484.0" x2="763.5" y2="488.0" stroke="rgba(91,68,57,0.44)" stroke-width="0.8"/><line x1="659.7" y1="514.6" x2="661.7" y2="518.8" stroke="rgba(106,77,64,0.57)" stroke-width="0.8"/><line x1="664.0" y1="446.8" x2="665.6" y2="449.9" stroke="rgba(73,57,49,0.28)" stroke-width="0.8"/><line x1="695.3" y1="503.0" x2="696.9" y2="506.2" stroke="rgba(100,74,61,0.52)" stroke-width="0.8"/><line x1="614.4" y1="506.3" x2="615.5" y2="508.5" stroke="rgba(102,75,62,0.53)" stroke-width="0.8"/><line x1="734.0" y1="454.2" x2="735.4" y2="457.0" stroke="rgba(76,59,51,0.31)" stroke-width="0.8"/><line x1="732.1" y1="451.5" x2="733.3" y2="453.9" stroke="rgba(75,58,50,0.30)" stroke-width="0.8"/><line x1="690.1" y1="499.3" x2="692.1" y2="503.4" stroke="rgba(98,73,61,0.50)" stroke-width="0.8"/><line x1="716.9" y1="517.6" x2="718.5" y2="520.8" stroke="rgba(107,78,65,0.58)" stroke-width="0.8"/><line x1="757.1" y1="447.1" x2="758.4" y2="449.6" stroke="rgba(73,57,49,0.28)" stroke-width="0.8"/><line x1="691.6" y1="463.8" x2="693.5" y2="467.6" stroke="rgba(81,62,53,0.35)" stroke-width="0.8"/><line x1="709.0" y1="482.9" x2="711.1" y2="487.0" stroke="rgba(90,68,57,0.43)" stroke-width="0.8"/><line x1="696.8" y1="465.6" x2="698.3" y2="468.5" stroke="rgba(82,62,53,0.36)" stroke-width="0.8"/><line x1="741.0" y1="513.8" x2="742.3" y2="516.4" stroke="rgba(106,77,64,0.57)" stroke-width="0.8"/><line x1="741.9" y1="519.4" x2="743.5" y2="522.7" stroke="rgba(108,79,65,0.59)" stroke-width="0.8"/><line x1="698.8" y1="456.5" x2="700.5" y2="459.8" stroke="rgba(78,60,51,0.32)" stroke-width="0.8"/><line x1="688.0" y1="489.6" x2="689.0" y2="491.7" stroke="rgba(94,70,58,0.46)" stroke-width="0.8"/><line x1="760.3" y1="482.3" x2="761.8" y2="485.3" stroke="rgba(90,67,57,0.43)" stroke-width="0.8"/><line x1="734.2" y1="486.2" x2="735.8" y2="489.4" stroke="rgba(92,69,58,0.45)" stroke-width="0.8"/><line x1="717.1" y1="445.4" x2="718.8" y2="448.8" stroke="rgba(72,56,49,0.27)" stroke-width="0.8"/><line x1="674.1" y1="518.5" x2="676.3" y2="522.8" stroke="rgba(108,78,65,0.58)" stroke-width="0.8"/><line x1="651.7" y1="478.8" x2="652.9" y2="481.1" stroke="rgba(88,66,56,0.42)" stroke-width="0.8"/><line x1="677.2" y1="506.9" x2="679.3" y2="511.1" stroke="rgba(102,75,62,0.54)" stroke-width="0.8"/><line x1="683.9" y1="466.0" x2="685.1" y2="468.5" stroke="rgba(82,62,53,0.36)" stroke-width="0.8"/><line x1="705.8" y1="515.9" x2="706.9" y2="518.2" stroke="rgba(107,78,64,0.57)" stroke-width="0.8"/><line x1="730.8" y1="441.9" x2="732.0" y2="444.4" stroke="rgba(70,55,48,0.26)" stroke-width="0.8"/><line x1="645.2" y1="496.3" x2="646.6" y2="499.1" stroke="rgba(97,72,60,0.49)" stroke-width="0.8"/><line x1="665.1" y1="490.8" x2="666.2" y2="493.1" stroke="rgba(94,70,59,0.47)" stroke-width="0.8"/><line x1="723.3" y1="450.1" x2="724.9" y2="453.3" stroke="rgba(74,58,50,0.29)" stroke-width="0.8"/><line x1="648.8" y1="456.2" x2="650.5" y2="459.5" stroke="rgba(77,59,51,0.32)" stroke-width="0.8"/><line x1="677.7" y1="470.8" x2="679.2" y2="473.8" stroke="rgba(85,64,54,0.38)" stroke-width="0.8"/><line x1="692.0" y1="453.1" x2="693.3" y2="455.6" stroke="rgba(76,58,50,0.31)" stroke-width="0.8"/><line x1="707.9" y1="492.4" x2="709.5" y2="495.7" stroke="rgba(95,70,59,0.47)" stroke-width="0.8"/><line x1="741.9" y1="490.2" x2="744.0" y2="494.3" stroke="rgba(94,70,59,0.46)" stroke-width="0.8"/><line x1="646.1" y1="500.7" x2="648.1" y2="504.8" stroke="rgba(99,73,61,0.51)" stroke-width="0.8"/><line x1="749.9" y1="465.9" x2="751.3" y2="468.7" stroke="rgba(82,62,53,0.36)" stroke-width="0.8"/><line x1="753.0" y1="457.9" x2="755.3" y2="462.4" stroke="rgba(78,60,51,0.33)" stroke-width="0.8"/><line x1="747.6" y1="451.0" x2="748.9" y2="453.6" stroke="rgba(75,58,50,0.30)" stroke-width="0.8"/><line x1="722.6" y1="461.3" x2="723.7" y2="463.5" stroke="rgba(80,61,52,0.34)" stroke-width="0.8"/><line x1="739.0" y1="474.6" x2="741.0" y2="478.5" stroke="rgba(86,65,55,0.40)" stroke-width="0.8"/><line x1="629.5" y1="473.0" x2="631.4" y2="476.7" stroke="rgba(86,65,55,0.39)" stroke-width="0.8"/><line x1="612.8" y1="456.5" x2="614.6" y2="460.2" stroke="rgba(78,60,51,0.32)" stroke-width="0.8"/><line x1="751.3" y1="519.4" x2="752.4" y2="521.7" stroke="rgba(108,79,65,0.59)" stroke-width="0.8"/><line x1="688.4" y1="502.2" x2="690.0" y2="505.4" stroke="rgba(100,73,61,0.52)" stroke-width="0.8"/><line x1="716.3" y1="455.5" x2="717.4" y2="457.7" stroke="rgba(77,59,51,0.32)" stroke-width="0.8"/><line x1="626.5" y1="443.1" x2="628.1" y2="446.4" stroke="rgba(71,55,48,0.26)" stroke-width="0.8"/><line x1="689.8" y1="486.6" x2="691.0" y2="489.0" stroke="rgba(92,69,58,0.45)" stroke-width="0.8"/><line x1="638.6" y1="456.7" x2="640.7" y2="460.8" stroke="rgba(78,60,51,0.32)" stroke-width="0.8"/><line x1="763.5" y1="516.0" x2="764.6" y2="518.2" stroke="rgba(107,78,64,0.57)" stroke-width="0.8"/><line x1="619.6" y1="518.0" x2="621.2" y2="521.2" stroke="rgba(108,78,65,0.58)" stroke-width="0.8"/><line x1="728.5" y1="466.8" x2="730.1" y2="470.0" stroke="rgba(83,63,53,0.36)" stroke-width="0.8"/><line x1="689.9" y1="475.3" x2="691.6" y2="478.8" stroke="rgba(87,65,55,0.40)" stroke-width="0.8"/><line x1="612.1" y1="497.5" x2="614.1" y2="501.6" stroke="rgba(98,72,60,0.50)" stroke-width="0.8"/><line x1="638.1" y1="477.2" x2="640.0" y2="481.1" stroke="rgba(88,66,56,0.41)" stroke-width="0.8"/><line x1="672.8" y1="456.0" x2="674.0" y2="458.4" stroke="rgba(77,59,51,0.32)" stroke-width="0.8"/><line x1="689.4" y1="441.3" x2="691.6" y2="445.5" stroke="rgba(70,55,48,0.26)" stroke-width="0.8"/><line x1="734.3" y1="497.8" x2="736.3" y2="501.9" stroke="rgba(98,72,60,0.50)" stroke-width="0.8"/><line x1="707.6" y1="473.2" x2="709.3" y2="476.7" stroke="rgba(86,65,55,0.39)" stroke-width="0.8"/><line x1="688.2" y1="520.6" x2="690.2" y2="524.6" stroke="rgba(109,79,65,0.59)" stroke-width="0.8"/><line x1="650.0" y1="514.7" x2="652.0" y2="518.6" stroke="rgba(106,77,64,0.57)" stroke-width="0.8"/><line x1="730.6" y1="506.8" x2="732.1" y2="509.8" stroke="rgba(102,75,62,0.54)" stroke-width="0.8"/><line x1="749.0" y1="512.1" x2="750.8" y2="515.9" stroke="rgba(105,76,63,0.56)" stroke-width="0.8"/><line x1="728.9" y1="502.7" x2="730.4" y2="505.8" stroke="rgba(100,74,61,0.52)" stroke-width="0.8"/><line x1="722.0" y1="445.8" x2="723.4" y2="448.6" stroke="rgba(72,56,49,0.27)" stroke-width="0.8"/><line x1="682.7" y1="440.9" x2="684.1" y2="443.8" stroke="rgba(70,55,48,0.25)" stroke-width="0.8"/><line x1="709.0" y1="491.2" x2="710.3" y2="493.7" stroke="rgba(94,70,59,0.47)" stroke-width="0.8"/><line x1="756.4" y1="494.6" x2="757.8" y2="497.5" stroke="rgba(96,71,59,0.48)" stroke-width="0.8"/><line x1="712.3" y1="486.7" x2="713.9" y2="490.0" stroke="rgba(92,69,58,0.45)" stroke-width="0.8"/><line x1="670.4" y1="522.0" x2="672.2" y2="525.6" stroke="rgba(109,79,65,0.60)" stroke-width="0.8"/><line x1="718.7" y1="502.5" x2="720.9" y2="506.9" stroke="rgba(100,74,61,0.52)" stroke-width="0.8"/><line x1="613.5" y1="490.5" x2="615.5" y2="494.3" stroke="rgba(94,70,59,0.47)" stroke-width="0.8"/><line x1="649.8" y1="472.9" x2="650.8" y2="475.1" stroke="rgba(86,65,55,0.39)" stroke-width="0.8"/><line x1="640.3" y1="470.8" x2="641.4" y2="473.1" stroke="rgba(85,64,54,0.38)" stroke-width="0.8"/><line x1="648.9" y1="514.3" x2="650.6" y2="517.6" stroke="rgba(106,77,64,0.57)" stroke-width="0.8"/><line x1="688.7" y1="519.3" x2="690.4" y2="522.7" stroke="rgba(108,79,65,0.59)" stroke-width="0.8"/><line x1="764.2" y1="492.3" x2="766.3" y2="496.3" stroke="rgba(95,70,59,0.47)" stroke-width="0.8"/><line x1="621.8" y1="489.0" x2="623.8" y2="492.9" stroke="rgba(93,69,58,0.46)" stroke-width="0.8"/><line x1="617.0" y1="516.3" x2="618.2" y2="518.7" stroke="rgba(107,78,64,0.58)" stroke-width="0.8"/><line x1="683.1" y1="453.9" x2="684.7" y2="457.1" stroke="rgba(76,59,51,0.31)" stroke-width="0.8"/><line x1="704.7" y1="444.8" x2="706.9" y2="449.2" stroke="rgba(72,56,49,0.27)" stroke-width="0.8"/><line x1="675.2" y1="483.2" x2="677.0" y2="486.7" stroke="rgba(91,68,57,0.43)" stroke-width="0.8"/><line x1="666.7" y1="463.4" x2="668.5" y2="467.1" stroke="rgba(81,62,53,0.35)" stroke-width="0.8"/><line x1="696.9" y1="463.2" x2="698.8" y2="467.0" stroke="rgba(81,62,53,0.35)" stroke-width="0.8"/><line x1="655.9" y1="441.1" x2="657.2" y2="443.8" stroke="rgba(70,55,48,0.25)" stroke-width="0.8"/><line x1="616.6" y1="452.8" x2="618.6" y2="456.7" stroke="rgba(76,58,50,0.30)" stroke-width="0.8"/><line x1="670.4" y1="513.6" x2="672.4" y2="517.5" stroke="rgba(105,77,64,0.56)" stroke-width="0.8"/><line x1="617.8" y1="521.1" x2="620.0" y2="525.4" stroke="rgba(109,79,65,0.60)" stroke-width="0.8"/><line x1="621.4" y1="514.3" x2="622.9" y2="517.3" stroke="rgba(106,77,64,0.57)" stroke-width="0.8"/><line x1="684.0" y1="519.8" x2="685.3" y2="522.4" stroke="rgba(108,79,65,0.59)" stroke-width="0.8"/><line x1="691.1" y1="516.9" x2="693.0" y2="520.7" stroke="rgba(107,78,64,0.58)" stroke-width="0.8"/><line x1="682.6" y1="520.3" x2="684.6" y2="524.3" stroke="rgba(109,79,65,0.59)" stroke-width="0.8"/><line x1="703.6" y1="449.4" x2="705.3" y2="453.0" stroke="rgba(74,57,50,0.29)" stroke-width="0.8"/><line x1="680.6" y1="456.7" x2="681.7" y2="458.8" stroke="rgba(78,60,51,0.32)" stroke-width="0.8"/><line x1="691.9" y1="450.2" x2="693.4" y2="453.3" stroke="rgba(74,58,50,0.29)" stroke-width="0.8"/><line x1="713.5" y1="477.4" x2="714.9" y2="480.0" stroke="rgba(88,66,56,0.41)" stroke-width="0.8"/><line x1="700.2" y1="474.4" x2="702.2" y2="478.3" stroke="rgba(86,65,55,0.40)" stroke-width="0.8"/><line x1="692.3" y1="521.8" x2="694.5" y2="526.2" stroke="rgba(109,79,65,0.60)" stroke-width="0.8"/><line x1="723.8" y1="459.5" x2="725.0" y2="461.8" stroke="rgba(79,60,52,0.33)" stroke-width="0.8"/><line x1="748.4" y1="504.3" x2="750.1" y2="507.9" stroke="rgba(101,74,62,0.52)" stroke-width="0.8"/><line x1="665.7" y1="462.3" x2="667.5" y2="466.0" stroke="rgba(80,61,52,0.35)" stroke-width="0.8"/><line x1="697.6" y1="488.5" x2="699.3" y2="492.1" stroke="rgba(93,69,58,0.46)" stroke-width="0.8"/><line x1="726.8" y1="455.6" x2="728.1" y2="458.2" stroke="rgba(77,59,51,0.32)" stroke-width="0.8"/><line x1="761.9" y1="515.1" x2="764.0" y2="519.3" stroke="rgba(106,77,64,0.57)" stroke-width="0.8"/><line x1="616.1" y1="445.0" x2="617.5" y2="447.7" stroke="rgba(72,56,49,0.27)" stroke-width="0.8"/><line x1="675.9" y1="491.1" x2="677.0" y2="493.4" stroke="rgba(94,70,59,0.47)" stroke-width="0.8"/><line x1="694.0" y1="445.9" x2="695.1" y2="448.2" stroke="rgba(72,56,49,0.28)" stroke-width="0.8"/><line x1="714.8" y1="485.2" x2="716.6" y2="488.7" stroke="rgba(92,68,57,0.44)" stroke-width="0.8"/><line x1="667.8" y1="479.2" x2="669.1" y2="481.8" stroke="rgba(89,66,56,0.42)" stroke-width="0.8"/><line x1="663.3" y1="501.1" x2="665.3" y2="505.2" stroke="rgba(99,73,61,0.51)" stroke-width="0.8"/><line x1="621.5" y1="449.8" x2="623.5" y2="453.8" stroke="rgba(74,57,50,0.29)" stroke-width="0.8"/><line x1="706.7" y1="503.0" x2="707.9" y2="505.6" stroke="rgba(100,74,61,0.52)" stroke-width="0.8"/><line x1="675.8" y1="461.2" x2="677.8" y2="465.2" stroke="rgba(80,61,52,0.34)" stroke-width="0.8"/><line x1="667.2" y1="493.6" x2="669.4" y2="498.1" stroke="rgba(96,71,59,0.48)" stroke-width="0.8"/><line x1="660.4" y1="485.0" x2="662.4" y2="488.9" stroke="rgba(91,68,57,0.44)" stroke-width="0.8"/><line x1="752.7" y1="475.1" x2="754.2" y2="478.0" stroke="rgba(87,65,55,0.40)" stroke-width="0.8"/><line x1="625.0" y1="511.8" x2="626.1" y2="514.0" stroke="rgba(105,76,63,0.56)" stroke-width="0.8"/><line x1="622.9" y1="486.3" x2="624.5" y2="489.5" stroke="rgba(92,69,58,0.45)" stroke-width="0.8"/><line x1="716.2" y1="464.5" x2="718.2" y2="468.4" stroke="rgba(81,62,53,0.35)" stroke-width="0.8"/><line x1="621.8" y1="457.5" x2="623.6" y2="461.1" stroke="rgba(78,60,51,0.32)" stroke-width="0.8"/></g>
<path d="M758,508 L796,510 L796,516 L758,517 Z" fill="#b89890"/>
<path d="M692,521 C694,527 700,530 708,529 C712,527 716,523 718,520 Z" fill="#e0b8b8"/>
<path d="M652,508 C650,512 652,516 658,516 C664,516 668,514 667,511 Z" fill="#d8b0b0"/>
<ellipse cx="671" cy="467.3" rx="11.4" ry="9.5" fill="#b09a92"/>
<ellipse cx="672" cy="468" rx="8" ry="6.5" fill="#c0aaa2"/>
<circle cx="635.8" cy="465.4" r="2.8" fill="#050505"/>
<path d="M606.4,468.3 L612,466 L612,472 Z" fill="#b08070"/>
<polygon points="633,452 657.6,452 655,460 636,460" fill="#c8a8a4"/>
<path d="M645,458 L650,469 M650,458 L655,469" stroke="#e8e8e8" stroke-width="3"/>
<rect x="637.7" y="438.8" width="16.1" height="16" rx="2" fill="#181818"/>
<circle cx="646" cy="448" r="1.6" fill="#aaa"/>
<rect x="639.6" y="414" width="12.4" height="26" fill="#1e1e1e"/>
<rect x="639.6" y="418" width="12.4" height="15" fill="#5a4818"/>
<polygon points="636.8,399 650,393 665,399 665,410.4 640.6,418" fill="#2a2a28"/>
<path d="M640,404 L652,400 L654,412 L642,416 Z" fill="#5a5020" opacity="0.8"/>
<rect x="665" y="402.8" width="7.8" height="6.6" fill="#b8b8b8"/>
<path d="M672.8,405.5 L752,406.8" stroke="#151515" stroke-width="4.2"/>
<path d="M752,402 L766,405 L796,418" fill="none" stroke="#202020" stroke-width="2"/>
<path d="M653.8,394.2 C668,387 682,384.5 696,384.7 C720,385 740,392 756,400" fill="none" stroke="#eeb07a" stroke-width="3.2"/>
<polygon points="752.6,397 766,402 764,407 752,403" fill="#707070"/>
<line x1="759.6" y1="565.5" x2="782.4" y2="565.5" stroke="#000" stroke-width="2"/>
<text x="831" y="352.5" font-family="Liberation Sans, sans-serif" font-weight="bold" font-size="17" fill="#000">E</text>
<rect x="846" y="360" width="215.7" height="215.8" fill="#000"/>
<g stroke="#f8f8f8" stroke-width="2.6" fill="none">
<path d="M902,360 L901.5,420 L900.4,575.8 M956,360 L955,470 L954.4,575.8 M1010.5,360 L1009.5,470 L1009,575.8"/>
<path d="M846,412.4 L1061.7,414.8 M846,467.9 L1061.7,469.4 M846,522.7 L1061.7,524.2"/>
</g>
<line x1="1024.8" y1="566" x2="1051.8" y2="566" stroke="#e8e030" stroke-width="2"/>
<text x="563.5" y="610.5" font-family="Liberation Sans, sans-serif" font-weight="bold" font-size="17" fill="#000">F</text>
<rect x="581" y="616.4" width="215.8" height="214.9" fill="#000"/>
<rect x="619.4" y="655.0" width="21.6" height="4.4" rx="1.8" fill="#fff"/><rect x="619.4" y="664.8" width="21.6" height="4.4" rx="1.8" fill="#fff"/><rect x="619.4" y="674.6" width="21.6" height="4.4" rx="1.8" fill="#fff"/>
<rect x="651.4" y="654.4" width="4.2" height="24.0" rx="1.7" fill="#fff"/><rect x="661.3" y="654.4" width="4.2" height="24.0" rx="1.7" fill="#fff"/><rect x="671.2" y="654.4" width="4.2" height="24.0" rx="1.7" fill="#fff"/>
<rect x="619" y="696.4" width="19.5" height="4" rx="1.6" fill="#fff"/><rect x="619" y="704.9" width="19.5" height="4" rx="1.6" fill="#fff"/><rect x="619" y="713.4" width="19.5" height="4" rx="1.6" fill="#fff"/>
<rect x="649.0" y="696.4" width="3.8" height="21.0" rx="1.5" fill="#fff"/><rect x="656.9" y="696.4" width="3.8" height="21.0" rx="1.5" fill="#fff"/><rect x="664.7" y="696.4" width="3.8" height="21.0" rx="1.5" fill="#fff"/>
<rect x="619" y="732.0" width="17.4" height="3.7" rx="1.5" fill="#fff"/><rect x="619" y="740.1" width="17.4" height="3.7" rx="1.5" fill="#fff"/><rect x="619" y="748.3" width="17.4" height="3.7" rx="1.5" fill="#fff"/>
<rect x="644.5" y="733" width="3.6" height="19.0" rx="1.4" fill="#fff"/><rect x="652.1" y="733" width="3.6" height="19.0" rx="1.4" fill="#fff"/><rect x="659.8" y="733" width="3.6" height="19.0" rx="1.4" fill="#fff"/>
<rect x="619" y="765.0" width="16.0" height="3.5" rx="1.4" fill="#fff"/><rect x="619" y="772.2" width="16.0" height="3.5" rx="1.4" fill="#fff"/><rect x="619" y="779.5" width="16.0" height="3.5" rx="1.4" fill="#fff"/>
<rect x="641.0" y="765" width="3.4" height="18.0" rx="1.4" fill="#fff"/><rect x="648.3" y="765" width="3.4" height="18.0" rx="1.4" fill="#fff"/><rect x="655.6" y="765" width="3.4" height="18.0" rx="1.4" fill="#fff"/>
<rect x="618.5" y="794.0" width="14.9" height="3.3" rx="1.3" fill="#fff"/><rect x="618.5" y="800.4" width="14.9" height="3.3" rx="1.3" fill="#fff"/><rect x="618.5" y="806.7" width="14.9" height="3.3" rx="1.3" fill="#fff"/>
<rect x="639.4" y="794" width="3.1" height="16.0" rx="1.2" fill="#fff"/><rect x="645.4" y="794" width="3.1" height="16.0" rx="1.2" fill="#fff"/><rect x="651.3" y="794" width="3.1" height="16.0" rx="1.2" fill="#fff"/>
<rect x="694" y="654.4" width="24" height="24.6" fill="#fff"/>
<rect x="704.0" y="784" width="5.6" height="27.0" rx="2.2" fill="#fff"/><rect x="714.7" y="784" width="5.6" height="27.0" rx="2.2" fill="#fff"/><rect x="725.4" y="784" width="5.6" height="27.0" rx="2.2" fill="#fff"/>
<rect x="741" y="784.0" width="27.0" height="5.4" rx="2.2" fill="#fff"/><rect x="741" y="794.3" width="27.0" height="5.4" rx="2.2" fill="#fff"/><rect x="741" y="804.6" width="27.0" height="5.4" rx="2.2" fill="#fff"/>
<rect x="737.0" y="655" width="2.6" height="11.0" rx="1.0" fill="#fff"/><rect x="741.7" y="655" width="2.6" height="11.0" rx="1.0" fill="#fff"/><rect x="746.4" y="655" width="2.6" height="11.0" rx="1.0" fill="#fff"/>
<rect x="755" y="655.0" width="13.0" height="2.6" rx="1.0" fill="#fff"/><rect x="755" y="659.2" width="13.0" height="2.6" rx="1.0" fill="#fff"/><rect x="755" y="663.4" width="13.0" height="2.6" rx="1.0" fill="#fff"/>
<rect x="740.0" y="678" width="2.4" height="11.0" rx="1.0" fill="#fff"/><rect x="744.8" y="678" width="2.4" height="11.0" rx="1.0" fill="#fff"/><rect x="749.6" y="678" width="2.4" height="11.0" rx="1.0" fill="#fff"/>
<rect x="756" y="678.0" width="12.0" height="2.4" rx="1.0" fill="#fff"/><rect x="756" y="682.3" width="12.0" height="2.4" rx="1.0" fill="#fff"/><rect x="756" y="686.6" width="12.0" height="2.4" rx="1.0" fill="#fff"/>
<rect x="743.5" y="698" width="2.2" height="10.0" rx="0.9" fill="#fff"/><rect x="747.6" y="698" width="2.2" height="10.0" rx="0.9" fill="#fff"/><rect x="751.8" y="698" width="2.2" height="10.0" rx="0.9" fill="#fff"/>
<rect x="758" y="698.0" width="10.0" height="2.2" rx="0.9" fill="#fff"/><rect x="758" y="701.9" width="10.0" height="2.2" rx="0.9" fill="#fff"/><rect x="758" y="705.8" width="10.0" height="2.2" rx="0.9" fill="#fff"/>
<rect x="746.0" y="717" width="2" height="9.0" rx="0.8" fill="#fff"/><rect x="749.5" y="717" width="2" height="9.0" rx="0.8" fill="#fff"/><rect x="753.0" y="717" width="2" height="9.0" rx="0.8" fill="#fff"/>
<rect x="759" y="717.0" width="9.0" height="2" rx="0.8" fill="#fff"/><rect x="759" y="720.5" width="9.0" height="2" rx="0.8" fill="#fff"/><rect x="759" y="724.0" width="9.0" height="2" rx="0.8" fill="#fff"/>
<rect x="748.0" y="733" width="1.8" height="8.0" rx="0.7" fill="#fff"/><rect x="751.1" y="733" width="1.8" height="8.0" rx="0.7" fill="#fff"/><rect x="754.2" y="733" width="1.8" height="8.0" rx="0.7" fill="#fff"/>
<rect x="760" y="733.0" width="8.0" height="1.8" rx="0.7" fill="#fff"/><rect x="760" y="736.1" width="8.0" height="1.8" rx="0.7" fill="#fff"/><rect x="760" y="739.2" width="8.0" height="1.8" rx="0.7" fill="#fff"/>
<rect x="750.6" y="748" width="1.3" height="6.0" rx="0.5" fill="#fff"/><rect x="753.6" y="748" width="1.3" height="6.0" rx="0.5" fill="#fff"/><rect x="756.7" y="748" width="1.3" height="6.0" rx="0.5" fill="#fff"/>
<line x1="764.5" y1="745" x2="764.5" y2="763" stroke="#20c050" stroke-width="1.5"/>
<line x1="761" y1="750" x2="768" y2="750" stroke="#20c050" stroke-width="1.2"/>
<line x1="761" y1="754" x2="768" y2="754" stroke="#20c050" stroke-width="1.2"/>
<line x1="761" y1="758" x2="768" y2="758" stroke="#20c050" stroke-width="1.2"/>
<text transform="translate(641.5,648.5) scale(1.0,1)" font-family="Liberation Sans, sans-serif" font-size="21" font-weight="normal" fill="#fff" stroke="#fff" stroke-width="0.5">6</text>
<text transform="translate(745.5,650) scale(1.0,1)" font-family="Liberation Sans, sans-serif" font-size="21" font-weight="normal" fill="#fff" stroke="#fff" stroke-width="0.5">7</text>
<text transform="translate(603.5,678.5) scale(0.8,1)" font-family="Liberation Sans, sans-serif" font-size="19" font-weight="normal" fill="#fff" stroke="#fff" stroke-width="0.5">2</text>
<text transform="translate(603,717.7) scale(0.8,1)" font-family="Liberation Sans, sans-serif" font-size="19.5" font-weight="normal" fill="#fff" stroke="#fff" stroke-width="0.5">3</text>
<text transform="translate(602.5,752.5) scale(0.85,1)" font-family="Liberation Sans, sans-serif" font-size="17.5" font-weight="bold" fill="#fff" stroke="#fff" stroke-width="0">4</text>
<text transform="translate(602.5,783) scale(0.95,1)" font-family="Liberation Sans, sans-serif" font-size="18" font-weight="bold" fill="#fff" stroke="#fff" stroke-width="0">5</text>
<text transform="translate(602.5,810.4) scale(0.95,1)" font-family="Liberation Sans, sans-serif" font-size="18" font-weight="bold" fill="#fff" stroke="#fff" stroke-width="0">6</text>
<text transform="translate(768,780) scale(0.95,1)" font-family="Liberation Sans, sans-serif" font-size="19.5" font-weight="bold" fill="#fff" stroke="#fff" stroke-width="0">6</text>
<text transform="translate(773.5,808.5) scale(0.9,1)" font-family="Liberation Sans, sans-serif" font-size="15" font-weight="bold" fill="#fff" stroke="#fff" stroke-width="0">1</text>
<text transform="translate(774.5,666) scale(0.9,1)" font-family="Liberation Sans, sans-serif" font-size="11" font-weight="bold" fill="#fff" stroke="#fff" stroke-width="0">1</text>
<text transform="translate(775,708) scale(0.9,1)" font-family="Liberation Sans, sans-serif" font-size="12" font-weight="bold" fill="#fff" stroke="#fff" stroke-width="0">3</text>
<line x1="741" y1="821.4" x2="769" y2="821.4" stroke="#e8e030" stroke-width="2"/>
<text x="830.5" y="610.8" font-family="Liberation Sans, sans-serif" font-weight="bold" font-size="17" fill="#000">G</text>
<rect x="865.9" y="630.9" width="193.3" height="173.8" fill="#fff" stroke="#444" stroke-width="1"/>
<path d="M865.9,780.4 L866.3,781.1 L866.9,782.1 L867.6,783.3 L868.3,784.6 L869.1,785.9 L869.9,787.2 L870.7,788.3 L871.4,789.1 L872.1,789.7 L872.8,790.2 L873.5,790.6 L874.2,790.9 L874.9,791.1 L875.6,791.3 L876.3,791.3 L877.0,791.3 L877.7,791.2 L878.4,791.1 L879.0,790.9 L879.7,790.6 L880.4,790.2 L881.1,789.7 L881.8,789.1 L882.5,788.4 L883.2,787.6 L883.9,786.8 L884.6,785.8 L885.3,784.8 L886.0,783.6 L886.7,782.3 L887.3,780.7 L888.0,778.9 L888.7,776.9 L889.4,774.7 L890.1,772.4 L890.8,769.8 L891.5,767.1 L892.2,764.2 L892.9,761.1 L893.6,757.9 L894.3,754.4 L895.0,750.7 L895.7,746.7 L896.3,742.6 L897.0,738.5 L897.7,734.2 L898.4,730.0 L899.1,725.9 L899.8,721.7 L900.5,717.5 L901.2,713.1 L901.9,708.8 L902.6,704.6 L903.3,700.4 L904.0,696.3 L904.6,692.4 L905.3,688.7 L906.0,684.9 L906.7,681.3 L907.4,677.8 L908.1,674.4 L908.8,671.2 L909.5,668.2 L910.2,665.5 L910.9,663.1 L911.6,660.7 L912.3,658.6 L912.9,656.7 L913.6,655.0 L914.3,653.6 L915.0,652.5 L915.7,651.7 L916.4,651.2 L917.1,651.0 L917.8,651.0 L918.5,651.3 L919.2,651.9 L919.9,652.9 L920.6,654.3 L921.2,656.1 L921.9,658.4 L922.6,661.2 L923.3,664.4 L924.0,667.9 L924.7,671.7 L925.4,675.7 L926.1,679.7 L926.8,683.7 L927.5,687.8 L928.2,692.1 L928.9,696.7 L929.6,701.3 L930.2,705.9 L930.9,710.5 L931.6,715.0 L932.3,719.3 L933.0,723.7 L933.7,728.2 L934.4,732.9 L935.1,737.4 L935.8,741.6 L936.5,745.3 L937.2,748.3 L937.9,750.6 L938.5,752.1 L939.2,753.1 L939.9,753.6 L940.6,753.6 L941.3,753.0 L942.0,751.8 L942.7,750.1 L943.4,747.7 L944.1,744.4 L944.8,740.2 L945.5,735.2 L946.2,729.7 L946.8,724.0 L947.5,718.3 L948.2,712.7 L948.9,707.7 L949.6,702.9 L950.3,698.1 L951.0,693.3 L951.7,688.5 L952.4,684.0 L953.1,679.6 L953.8,675.7 L954.5,672.1 L955.2,668.9 L955.8,666.1 L956.5,663.5 L957.2,661.3 L957.9,659.2 L958.6,657.3 L959.3,655.6 L960.0,653.9 L960.7,652.3 L961.4,650.8 L962.1,649.4 L962.8,648.3 L963.5,647.3 L964.1,646.5 L964.8,646.1 L965.5,645.9 L966.2,646.0 L966.9,646.2 L967.6,646.6 L968.3,647.4 L969.0,648.4 L969.7,649.8 L970.4,651.6 L971.1,653.9 L971.8,656.8 L972.4,660.3 L973.1,664.2 L973.8,668.5 L974.5,673.0 L975.2,677.6 L975.9,682.2 L976.6,686.6 L977.3,691.1 L978.0,695.7 L978.7,700.5 L979.4,705.2 L980.1,710.0 L980.8,714.6 L981.4,718.9 L982.1,723.0 L982.8,726.9 L983.5,730.9 L984.2,734.8 L984.9,738.5 L985.6,741.8 L986.3,744.7 L987.0,746.9 L987.7,748.4 L988.4,749.3 L989.1,749.6 L989.7,749.4 L990.4,748.7 L991.1,747.5 L991.8,745.7 L992.5,743.3 L993.2,740.4 L993.9,736.6 L994.6,731.8 L995.3,726.2 L996.0,720.2 L996.7,714.0 L997.4,707.8 L998.0,702.0 L998.7,696.8 L999.4,692.0 L1000.1,687.2 L1000.8,682.5 L1001.5,678.0 L1002.2,673.7 L1002.9,669.8 L1003.6,666.3 L1004.3,663.3 L1005.0,660.8 L1005.7,658.5 L1006.4,656.5 L1007.0,655.0 L1007.7,653.8 L1008.4,653.1 L1009.1,652.9 L1009.8,653.2 L1010.5,654.0 L1011.2,655.4 L1011.9,657.3 L1012.6,659.7 L1013.3,662.4 L1014.0,665.4 L1014.7,668.6 L1015.3,672.1 L1016.0,675.8 L1016.7,680.0 L1017.4,684.5 L1018.1,689.3 L1018.8,694.2 L1019.5,699.2 L1020.2,704.3 L1020.9,709.1 L1021.6,714.1 L1022.3,719.2 L1023.0,724.3 L1023.6,729.6 L1024.3,734.7 L1025.0,739.7 L1025.7,744.6 L1026.4,749.1 L1027.1,753.6 L1027.8,758.0 L1028.5,762.3 L1029.2,766.4 L1029.9,770.3 L1030.6,773.9 L1031.3,777.0 L1032.0,779.7 L1032.6,781.7 L1033.3,783.3 L1034.0,784.4 L1034.7,785.2 L1035.4,785.8 L1036.1,786.2 L1036.8,786.5 L1037.5,786.9 L1038.2,787.3 L1038.9,787.5 L1039.6,787.5 L1040.3,787.4 L1040.9,787.3 L1041.6,787.2 L1042.3,787.0 L1043.0,786.9 L1043.7,786.9 L1044.4,786.9 L1045.1,786.8 L1045.8,786.8 L1046.5,786.7 L1047.2,786.6 L1047.9,786.4 L1048.6,786.2 L1049.2,785.9 L1049.9,785.4 L1050.6,784.9 L1051.3,784.3 L1052.0,783.8 L1052.7,783.3 L1053.4,782.9 L1054.1,782.6 L1054.8,782.4 L1055.6,782.3 L1056.4,782.3 L1057.2,782.3 L1058.0,782.4 L1058.6,782.5 L1059.2,782.6 L1059.6,782.6" fill="none" stroke="#1c3c4c" stroke-width="1.7"/>
<circle cx="865.9" cy="780.4" r="3.1" fill="#e034ea"/><circle cx="865.9" cy="780.4" r="1" fill="#2a3a5a"/>
<circle cx="871.4" cy="789.1" r="3.1" fill="#e034ea"/><circle cx="871.4" cy="789.1" r="1" fill="#2a3a5a"/>
<circle cx="877.0" cy="791.3" r="3.1" fill="#e034ea"/><circle cx="877.0" cy="791.3" r="1" fill="#2a3a5a"/>
<circle cx="882.5" cy="788.4" r="3.1" fill="#e034ea"/><circle cx="882.5" cy="788.4" r="1" fill="#2a3a5a"/>
<circle cx="888.0" cy="778.9" r="3.1" fill="#e034ea"/><circle cx="888.0" cy="778.9" r="1" fill="#2a3a5a"/>
<circle cx="893.6" cy="757.9" r="3.1" fill="#e034ea"/><circle cx="893.6" cy="757.9" r="1" fill="#2a3a5a"/>
<circle cx="899.1" cy="725.9" r="3.1" fill="#e034ea"/><circle cx="899.1" cy="725.9" r="1" fill="#2a3a5a"/>
<circle cx="904.6" cy="692.4" r="3.1" fill="#e034ea"/><circle cx="904.6" cy="692.4" r="1" fill="#2a3a5a"/>
<circle cx="910.2" cy="665.5" r="3.1" fill="#e034ea"/><circle cx="910.2" cy="665.5" r="1" fill="#2a3a5a"/>
<circle cx="915.7" cy="651.7" r="3.1" fill="#e034ea"/><circle cx="915.7" cy="651.7" r="1" fill="#2a3a5a"/>
<circle cx="921.2" cy="656.1" r="3.1" fill="#e034ea"/><circle cx="921.2" cy="656.1" r="1" fill="#2a3a5a"/>
<circle cx="926.8" cy="683.7" r="3.1" fill="#e034ea"/><circle cx="926.8" cy="683.7" r="1" fill="#2a3a5a"/>
<circle cx="932.3" cy="719.3" r="3.1" fill="#e034ea"/><circle cx="932.3" cy="719.3" r="1" fill="#2a3a5a"/>
<circle cx="937.9" cy="750.6" r="3.1" fill="#e034ea"/><circle cx="937.9" cy="750.6" r="1" fill="#2a3a5a"/>
<circle cx="943.4" cy="747.7" r="3.1" fill="#e034ea"/><circle cx="943.4" cy="747.7" r="1" fill="#2a3a5a"/>
<circle cx="948.9" cy="707.7" r="3.1" fill="#e034ea"/><circle cx="948.9" cy="707.7" r="1" fill="#2a3a5a"/>
<circle cx="954.5" cy="672.1" r="3.1" fill="#e034ea"/><circle cx="954.5" cy="672.1" r="1" fill="#2a3a5a"/>
<circle cx="960.0" cy="653.9" r="3.1" fill="#e034ea"/><circle cx="960.0" cy="653.9" r="1" fill="#2a3a5a"/>
<circle cx="965.5" cy="645.9" r="3.1" fill="#e034ea"/><circle cx="965.5" cy="645.9" r="1" fill="#2a3a5a"/>
<circle cx="971.1" cy="653.9" r="3.1" fill="#e034ea"/><circle cx="971.1" cy="653.9" r="1" fill="#2a3a5a"/>
<circle cx="976.6" cy="686.6" r="3.1" fill="#e034ea"/><circle cx="976.6" cy="686.6" r="1" fill="#2a3a5a"/>
<circle cx="982.1" cy="723.0" r="3.1" fill="#e034ea"/><circle cx="982.1" cy="723.0" r="1" fill="#2a3a5a"/>
<circle cx="987.7" cy="748.4" r="3.1" fill="#e034ea"/><circle cx="987.7" cy="748.4" r="1" fill="#2a3a5a"/>
<circle cx="993.2" cy="740.4" r="3.1" fill="#e034ea"/><circle cx="993.2" cy="740.4" r="1" fill="#2a3a5a"/>
<circle cx="998.7" cy="696.8" r="3.1" fill="#e034ea"/><circle cx="998.7" cy="696.8" r="1" fill="#2a3a5a"/>
<circle cx="1004.3" cy="663.3" r="3.1" fill="#e034ea"/><circle cx="1004.3" cy="663.3" r="1" fill="#2a3a5a"/>
<circle cx="1009.8" cy="653.2" r="3.1" fill="#e034ea"/><circle cx="1009.8" cy="653.2" r="1" fill="#2a3a5a"/>
<circle cx="1015.3" cy="672.1" r="3.1" fill="#e034ea"/><circle cx="1015.3" cy="672.1" r="1" fill="#2a3a5a"/>
<circle cx="1020.9" cy="709.1" r="3.1" fill="#e034ea"/><circle cx="1020.9" cy="709.1" r="1" fill="#2a3a5a"/>
<circle cx="1026.4" cy="749.1" r="3.1" fill="#e034ea"/><circle cx="1026.4" cy="749.1" r="1" fill="#2a3a5a"/>
<circle cx="1032.0" cy="779.7" r="3.1" fill="#e034ea"/><circle cx="1032.0" cy="779.7" r="1" fill="#2a3a5a"/>
<circle cx="1037.5" cy="786.9" r="3.1" fill="#e034ea"/><circle cx="1037.5" cy="786.9" r="1" fill="#2a3a5a"/>
<circle cx="1043.0" cy="786.9" r="3.1" fill="#e034ea"/><circle cx="1043.0" cy="786.9" r="1" fill="#2a3a5a"/>
<circle cx="1048.6" cy="786.2" r="3.1" fill="#e034ea"/><circle cx="1048.6" cy="786.2" r="1" fill="#2a3a5a"/>
<circle cx="1054.1" cy="782.6" r="3.1" fill="#e034ea"/><circle cx="1054.1" cy="782.6" r="1" fill="#2a3a5a"/>
<circle cx="1059.6" cy="782.6" r="3.1" fill="#e034ea"/><circle cx="1059.6" cy="782.6" r="1" fill="#2a3a5a"/>
<line x1="865.9" y1="804.7" x2="865.9" y2="800.7" stroke="#444"/><line x1="865.9" y1="630.9" x2="865.9" y2="634.9" stroke="#444"/>
<text x="865.9" y="825" text-anchor="middle" font-family="Liberation Sans, sans-serif" font-size="15" fill="#333">0</text>
<line x1="921.2" y1="804.7" x2="921.2" y2="800.7" stroke="#444"/><line x1="921.2" y1="630.9" x2="921.2" y2="634.9" stroke="#444"/>
<text x="921.2" y="825" text-anchor="middle" font-family="Liberation Sans, sans-serif" font-size="15" fill="#333">5</text>
<line x1="976.6" y1="804.7" x2="976.6" y2="800.7" stroke="#444"/><line x1="976.6" y1="630.9" x2="976.6" y2="634.9" stroke="#444"/>
<text x="976.6" y="825" text-anchor="middle" font-family="Liberation Sans, sans-serif" font-size="15" fill="#333">10</text>
<line x1="1032.0" y1="804.7" x2="1032.0" y2="800.7" stroke="#444"/><line x1="1032.0" y1="630.9" x2="1032.0" y2="634.9" stroke="#444"/>
<text x="1032.0" y="825" text-anchor="middle" font-family="Liberation Sans, sans-serif" font-size="15" fill="#333">15</text>
<line x1="865.9" y1="791.3" x2="869.9" y2="791.3" stroke="#444"/><line x1="1059.2" y1="791.3" x2="1055.2" y2="791.3" stroke="#444"/>
<text x="862" y="796.6" text-anchor="end" font-family="Liberation Sans, sans-serif" font-size="15" fill="#333">0</text>
<line x1="865.9" y1="762.2" x2="869.9" y2="762.2" stroke="#444"/><line x1="1059.2" y1="762.2" x2="1055.2" y2="762.2" stroke="#444"/>
<text x="862" y="767.5" text-anchor="end" font-family="Liberation Sans, sans-serif" font-size="15" fill="#333">0.2</text>
<line x1="865.9" y1="733.1" x2="869.9" y2="733.1" stroke="#444"/><line x1="1059.2" y1="733.1" x2="1055.2" y2="733.1" stroke="#444"/>
<text x="862" y="738.4" text-anchor="end" font-family="Liberation Sans, sans-serif" font-size="15" fill="#333">0.4</text>
<line x1="865.9" y1="704.1" x2="869.9" y2="704.1" stroke="#444"/><line x1="1059.2" y1="704.1" x2="1055.2" y2="704.1" stroke="#444"/>
<text x="862" y="709.4" text-anchor="end" font-family="Liberation Sans, sans-serif" font-size="15" fill="#333">0.6</text>
<line x1="865.9" y1="675.0" x2="869.9" y2="675.0" stroke="#444"/><line x1="1059.2" y1="675.0" x2="1055.2" y2="675.0" stroke="#444"/>
<text x="862" y="680.3" text-anchor="end" font-family="Liberation Sans, sans-serif" font-size="15" fill="#333">0.8</text>
<line x1="865.9" y1="645.9" x2="869.9" y2="645.9" stroke="#444"/><line x1="1059.2" y1="645.9" x2="1055.2" y2="645.9" stroke="#444"/>
<text x="862" y="651.2" text-anchor="end" font-family="Liberation Sans, sans-serif" font-size="15" fill="#333">1</text>
<text x="917" y="840.8" font-family="Liberation Sans, sans-serif" font-size="15.5" fill="#333" textLength="91" lengthAdjust="spacingAndGlyphs" >Distance (µm)</text>
<text transform="translate(836.5,717.8) rotate(-90)" text-anchor="middle" font-family="Liberation Sans, sans-serif" font-size="15.5" fill="#333" textLength="137.5" lengthAdjust="spacingAndGlyphs">Norm. Intensity (a.u.)</text></svg></body></html>
